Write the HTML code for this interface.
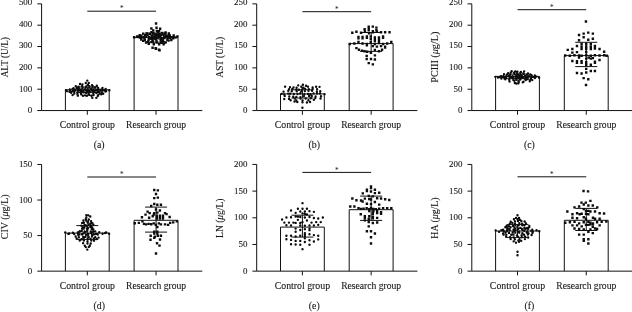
<!DOCTYPE html>
<html lang="en"><head><meta charset="utf-8"><title>Figure</title>
<style>html,body{margin:0;padding:0;background:#fff}body{width:632px;height:312px;overflow:hidden}</style>
</head><body>
<svg width="632" height="312" viewBox="0 0 632 312" style="display:block">
<rect x="0" y="0" width="632" height="312" fill="#ffffff"/>
<g font-family="'Liberation Serif', serif" font-size="9.8" fill="#161616">
<g><path d="M65.4 110.55V89.8H109.2V110.55" fill="none" stroke="#111111" stroke-width="1.0"/>
<path d="M134.1 110.55V37.6H178V110.55" fill="none" stroke="#111111" stroke-width="1.0"/>
<path d="M41.6 3.85V110.55H202.3M37.3 110.55H41.6M37.3 89.21H41.6M37.3 67.87H41.6M37.3 46.53H41.6M37.3 25.19H41.6M37.3 3.85H41.6M87.3 110.55V114.75M156.05 110.55V114.75" fill="none" stroke="#111111" stroke-width="1.0"/>
<text x="32.25" y="113.15" font-size="8.6" text-anchor="end" textLength="4.45" lengthAdjust="spacingAndGlyphs" stroke="#161616" stroke-width="0.1">0</text>
<text x="32.25" y="91.59" font-size="8.6" text-anchor="end" textLength="13.35" lengthAdjust="spacingAndGlyphs" stroke="#161616" stroke-width="0.1">100</text>
<text x="32.25" y="70.03" font-size="8.6" text-anchor="end" textLength="13.35" lengthAdjust="spacingAndGlyphs" stroke="#161616" stroke-width="0.1">200</text>
<text x="32.25" y="48.47" font-size="8.6" text-anchor="end" textLength="13.35" lengthAdjust="spacingAndGlyphs" stroke="#161616" stroke-width="0.1">300</text>
<text x="32.25" y="26.91" font-size="8.6" text-anchor="end" textLength="13.35" lengthAdjust="spacingAndGlyphs" stroke="#161616" stroke-width="0.1">400</text>
<text x="32.25" y="5.35" font-size="8.6" text-anchor="end" textLength="13.35" lengthAdjust="spacingAndGlyphs" stroke="#161616" stroke-width="0.1">500</text>
<text x="87.3" y="128.15" text-anchor="middle" textLength="55.3" lengthAdjust="spacingAndGlyphs" stroke="#161616" stroke-width="0.1">Control group</text>
<text x="156.05" y="128.15" text-anchor="middle" textLength="60" lengthAdjust="spacingAndGlyphs" stroke="#161616" stroke-width="0.1">Research group</text>
<text x="99.2" y="148.25" text-anchor="middle" stroke="#161616" stroke-width="0.1">(a)</text>
<text transform="translate(8 57.2) rotate(-90)" text-anchor="middle" textLength="40.2" lengthAdjust="spacingAndGlyphs" stroke="#161616" stroke-width="0.1">ALT (U/L)</text>
<path d="M87.3 11.2H156.05" fill="none" stroke="#111111" stroke-width="1.0"/>
<text x="121.7" y="11.35" font-size="7.2" text-anchor="middle">*</text>
<path d="M87.3 87V92.6M76.3 87H98.3M76.3 92.6H98.3" fill="none" stroke="#111111" stroke-width="1.0"/>
<path d="M86.1 80.6a1.2 1.2 0 1 0 2.4 0a1.2 1.2 0 1 0 -2.4 0M84.6 83.04a1.2 1.2 0 1 0 2.4 0a1.2 1.2 0 1 0 -2.4 0M87.6 82.97a1.2 1.2 0 1 0 2.4 0a1.2 1.2 0 1 0 -2.4 0M78.84 84a1.2 1.2 0 1 0 2.4 0a1.2 1.2 0 1 0 -2.4 0M81.24 84.38a1.2 1.2 0 1 0 2.4 0a1.2 1.2 0 1 0 -2.4 0M86.63 84.82a1.2 1.2 0 1 0 2.4 0a1.2 1.2 0 1 0 -2.4 0M90.86 85.08a1.2 1.2 0 1 0 2.4 0a1.2 1.2 0 1 0 -2.4 0M74.55 86.31a1.2 1.2 0 1 0 2.4 0a1.2 1.2 0 1 0 -2.4 0M77.4 86.7a1.2 1.2 0 1 0 2.4 0a1.2 1.2 0 1 0 -2.4 0M80.81 86.08a1.2 1.2 0 1 0 2.4 0a1.2 1.2 0 1 0 -2.4 0M85 86.43a1.2 1.2 0 1 0 2.4 0a1.2 1.2 0 1 0 -2.4 0M88.2 86.18a1.2 1.2 0 1 0 2.4 0a1.2 1.2 0 1 0 -2.4 0M91.53 86.09a1.2 1.2 0 1 0 2.4 0a1.2 1.2 0 1 0 -2.4 0M95.62 85.75a1.2 1.2 0 1 0 2.4 0a1.2 1.2 0 1 0 -2.4 0M72.31 88.23a1.2 1.2 0 1 0 2.4 0a1.2 1.2 0 1 0 -2.4 0M75.71 87.89a1.2 1.2 0 1 0 2.4 0a1.2 1.2 0 1 0 -2.4 0M77.51 87.73a1.2 1.2 0 1 0 2.4 0a1.2 1.2 0 1 0 -2.4 0M81.46 87.75a1.2 1.2 0 1 0 2.4 0a1.2 1.2 0 1 0 -2.4 0M84.56 87.57a1.2 1.2 0 1 0 2.4 0a1.2 1.2 0 1 0 -2.4 0M88.11 87.61a1.2 1.2 0 1 0 2.4 0a1.2 1.2 0 1 0 -2.4 0M91.25 87.37a1.2 1.2 0 1 0 2.4 0a1.2 1.2 0 1 0 -2.4 0M93.78 87.46a1.2 1.2 0 1 0 2.4 0a1.2 1.2 0 1 0 -2.4 0M96.88 87.9a1.2 1.2 0 1 0 2.4 0a1.2 1.2 0 1 0 -2.4 0M101.29 87.91a1.2 1.2 0 1 0 2.4 0a1.2 1.2 0 1 0 -2.4 0M68.64 89.51a1.2 1.2 0 1 0 2.4 0a1.2 1.2 0 1 0 -2.4 0M71.33 88.88a1.2 1.2 0 1 0 2.4 0a1.2 1.2 0 1 0 -2.4 0M73.94 89.76a1.2 1.2 0 1 0 2.4 0a1.2 1.2 0 1 0 -2.4 0M78.09 89.31a1.2 1.2 0 1 0 2.4 0a1.2 1.2 0 1 0 -2.4 0M80.1 89.56a1.2 1.2 0 1 0 2.4 0a1.2 1.2 0 1 0 -2.4 0M83.45 89.45a1.2 1.2 0 1 0 2.4 0a1.2 1.2 0 1 0 -2.4 0M86.53 89.51a1.2 1.2 0 1 0 2.4 0a1.2 1.2 0 1 0 -2.4 0M89.8 89.17a1.2 1.2 0 1 0 2.4 0a1.2 1.2 0 1 0 -2.4 0M92.18 89.38a1.2 1.2 0 1 0 2.4 0a1.2 1.2 0 1 0 -2.4 0M94.96 89.76a1.2 1.2 0 1 0 2.4 0a1.2 1.2 0 1 0 -2.4 0M97.3 89.32a1.2 1.2 0 1 0 2.4 0a1.2 1.2 0 1 0 -2.4 0M99.86 89.79a1.2 1.2 0 1 0 2.4 0a1.2 1.2 0 1 0 -2.4 0M104.45 88.84a1.2 1.2 0 1 0 2.4 0a1.2 1.2 0 1 0 -2.4 0M64.8 90.08a1.2 1.2 0 1 0 2.4 0a1.2 1.2 0 1 0 -2.4 0M65.93 91.15a1.2 1.2 0 1 0 2.4 0a1.2 1.2 0 1 0 -2.4 0M68.94 91.13a1.2 1.2 0 1 0 2.4 0a1.2 1.2 0 1 0 -2.4 0M71.9 90.93a1.2 1.2 0 1 0 2.4 0a1.2 1.2 0 1 0 -2.4 0M74.06 90.3a1.2 1.2 0 1 0 2.4 0a1.2 1.2 0 1 0 -2.4 0M76.51 90.1a1.2 1.2 0 1 0 2.4 0a1.2 1.2 0 1 0 -2.4 0M77.85 90.51a1.2 1.2 0 1 0 2.4 0a1.2 1.2 0 1 0 -2.4 0M79.7 90.84a1.2 1.2 0 1 0 2.4 0a1.2 1.2 0 1 0 -2.4 0M81.76 91.01a1.2 1.2 0 1 0 2.4 0a1.2 1.2 0 1 0 -2.4 0M85.03 90.79a1.2 1.2 0 1 0 2.4 0a1.2 1.2 0 1 0 -2.4 0M87.86 91.02a1.2 1.2 0 1 0 2.4 0a1.2 1.2 0 1 0 -2.4 0M90.32 90.65a1.2 1.2 0 1 0 2.4 0a1.2 1.2 0 1 0 -2.4 0M91.88 91.04a1.2 1.2 0 1 0 2.4 0a1.2 1.2 0 1 0 -2.4 0M93.48 91.13a1.2 1.2 0 1 0 2.4 0a1.2 1.2 0 1 0 -2.4 0M96.76 90.31a1.2 1.2 0 1 0 2.4 0a1.2 1.2 0 1 0 -2.4 0M99.33 90.53a1.2 1.2 0 1 0 2.4 0a1.2 1.2 0 1 0 -2.4 0M101.36 90.25a1.2 1.2 0 1 0 2.4 0a1.2 1.2 0 1 0 -2.4 0M103.3 90.39a1.2 1.2 0 1 0 2.4 0a1.2 1.2 0 1 0 -2.4 0M105.02 91.02a1.2 1.2 0 1 0 2.4 0a1.2 1.2 0 1 0 -2.4 0M108.21 90.26a1.2 1.2 0 1 0 2.4 0a1.2 1.2 0 1 0 -2.4 0M68.39 91.7a1.2 1.2 0 1 0 2.4 0a1.2 1.2 0 1 0 -2.4 0M70.41 91.69a1.2 1.2 0 1 0 2.4 0a1.2 1.2 0 1 0 -2.4 0M73.07 91.85a1.2 1.2 0 1 0 2.4 0a1.2 1.2 0 1 0 -2.4 0M76.3 92.27a1.2 1.2 0 1 0 2.4 0a1.2 1.2 0 1 0 -2.4 0M79.89 91.82a1.2 1.2 0 1 0 2.4 0a1.2 1.2 0 1 0 -2.4 0M82.64 92.31a1.2 1.2 0 1 0 2.4 0a1.2 1.2 0 1 0 -2.4 0M86.19 91.4a1.2 1.2 0 1 0 2.4 0a1.2 1.2 0 1 0 -2.4 0M88.48 91.68a1.2 1.2 0 1 0 2.4 0a1.2 1.2 0 1 0 -2.4 0M92.53 91.88a1.2 1.2 0 1 0 2.4 0a1.2 1.2 0 1 0 -2.4 0M95.8 92.18a1.2 1.2 0 1 0 2.4 0a1.2 1.2 0 1 0 -2.4 0M97.94 92.32a1.2 1.2 0 1 0 2.4 0a1.2 1.2 0 1 0 -2.4 0M100.7 92.57a1.2 1.2 0 1 0 2.4 0a1.2 1.2 0 1 0 -2.4 0M104.28 91.49a1.2 1.2 0 1 0 2.4 0a1.2 1.2 0 1 0 -2.4 0M70.02 92.86a1.2 1.2 0 1 0 2.4 0a1.2 1.2 0 1 0 -2.4 0M73.1 93.48a1.2 1.2 0 1 0 2.4 0a1.2 1.2 0 1 0 -2.4 0M76.23 93.83a1.2 1.2 0 1 0 2.4 0a1.2 1.2 0 1 0 -2.4 0M79.79 92.99a1.2 1.2 0 1 0 2.4 0a1.2 1.2 0 1 0 -2.4 0M84.98 92.89a1.2 1.2 0 1 0 2.4 0a1.2 1.2 0 1 0 -2.4 0M87.5 93.92a1.2 1.2 0 1 0 2.4 0a1.2 1.2 0 1 0 -2.4 0M92.11 93.86a1.2 1.2 0 1 0 2.4 0a1.2 1.2 0 1 0 -2.4 0M95.22 92.94a1.2 1.2 0 1 0 2.4 0a1.2 1.2 0 1 0 -2.4 0M98.42 93.5a1.2 1.2 0 1 0 2.4 0a1.2 1.2 0 1 0 -2.4 0M102.01 93.69a1.2 1.2 0 1 0 2.4 0a1.2 1.2 0 1 0 -2.4 0M71.38 95.09a1.2 1.2 0 1 0 2.4 0a1.2 1.2 0 1 0 -2.4 0M76.22 94.37a1.2 1.2 0 1 0 2.4 0a1.2 1.2 0 1 0 -2.4 0M79.96 94.24a1.2 1.2 0 1 0 2.4 0a1.2 1.2 0 1 0 -2.4 0M83.87 95.34a1.2 1.2 0 1 0 2.4 0a1.2 1.2 0 1 0 -2.4 0M88.02 94.89a1.2 1.2 0 1 0 2.4 0a1.2 1.2 0 1 0 -2.4 0M92.37 95.12a1.2 1.2 0 1 0 2.4 0a1.2 1.2 0 1 0 -2.4 0M96.93 95.32a1.2 1.2 0 1 0 2.4 0a1.2 1.2 0 1 0 -2.4 0M100.05 94.26a1.2 1.2 0 1 0 2.4 0a1.2 1.2 0 1 0 -2.4 0M76.62 95.66a1.2 1.2 0 1 0 2.4 0a1.2 1.2 0 1 0 -2.4 0M81.73 95.8a1.2 1.2 0 1 0 2.4 0a1.2 1.2 0 1 0 -2.4 0M85.72 95.82a1.2 1.2 0 1 0 2.4 0a1.2 1.2 0 1 0 -2.4 0M90.21 95.74a1.2 1.2 0 1 0 2.4 0a1.2 1.2 0 1 0 -2.4 0M96.62 95.94a1.2 1.2 0 1 0 2.4 0a1.2 1.2 0 1 0 -2.4 0M91.1 97.81a1.2 1.2 0 1 0 2.4 0a1.2 1.2 0 1 0 -2.4 0M95.1 97.83a1.2 1.2 0 1 0 2.4 0a1.2 1.2 0 1 0 -2.4 0" fill="#0c0c0c"/>
<path d="M156.05 33V42.2M145.05 33H167.05M145.05 42.2H167.05" fill="none" stroke="#111111" stroke-width="1.0"/>
<path d="M154.85 22.3h2.4v2.4h-2.4zM150.19 27.25h2.4v2.4h-2.4zM155.34 26.58h2.4v2.4h-2.4zM158.96 27.58h2.4v2.4h-2.4zM152.07 29.25h2.4v2.4h-2.4zM155.7 29.7h2.4v2.4h-2.4zM157.88 30.05h2.4v2.4h-2.4zM145.72 32.18h2.4v2.4h-2.4zM150.24 31.09h2.4v2.4h-2.4zM152.22 32.1h2.4v2.4h-2.4zM156.55 31.04h2.4v2.4h-2.4zM161.06 31.87h2.4v2.4h-2.4zM164.35 31.23h2.4v2.4h-2.4zM141.99 32.46h2.4v2.4h-2.4zM145.79 32.67h2.4v2.4h-2.4zM148.62 32.74h2.4v2.4h-2.4zM152.5 33.26h2.4v2.4h-2.4zM154.84 33.31h2.4v2.4h-2.4zM157.81 32.99h2.4v2.4h-2.4zM160.64 32.4h2.4v2.4h-2.4zM164.01 32.74h2.4v2.4h-2.4zM167.6 32.36h2.4v2.4h-2.4zM138.52 34.1h2.4v2.4h-2.4zM140.08 34.53h2.4v2.4h-2.4zM143.9 33.69h2.4v2.4h-2.4zM146.46 34.13h2.4v2.4h-2.4zM150.51 34.15h2.4v2.4h-2.4zM154.16 34.31h2.4v2.4h-2.4zM156.86 34.01h2.4v2.4h-2.4zM159.54 33.75h2.4v2.4h-2.4zM162.23 33.71h2.4v2.4h-2.4zM166.15 34.57h2.4v2.4h-2.4zM168.6 34.18h2.4v2.4h-2.4zM172.49 34.21h2.4v2.4h-2.4zM132.9 36.11h2.4v2.4h-2.4zM135.92 35.28h2.4v2.4h-2.4zM137.09 35.52h2.4v2.4h-2.4zM139.91 35.72h2.4v2.4h-2.4zM142.72 35.75h2.4v2.4h-2.4zM144.54 35.25h2.4v2.4h-2.4zM147.83 36.02h2.4v2.4h-2.4zM150.65 35.62h2.4v2.4h-2.4zM152.25 35.99h2.4v2.4h-2.4zM154.42 35.24h2.4v2.4h-2.4zM157.11 35.29h2.4v2.4h-2.4zM159.11 35.17h2.4v2.4h-2.4zM162.81 35.87h2.4v2.4h-2.4zM164.97 35.01h2.4v2.4h-2.4zM167.94 35.59h2.4v2.4h-2.4zM170.33 35.91h2.4v2.4h-2.4zM171.86 35.98h2.4v2.4h-2.4zM174.44 36.18h2.4v2.4h-2.4zM176.32 35.2h2.4v2.4h-2.4zM138.56 36.46h2.4v2.4h-2.4zM140.32 36.43h2.4v2.4h-2.4zM143.23 37.08h2.4v2.4h-2.4zM147.75 36.63h2.4v2.4h-2.4zM150.06 37.52h2.4v2.4h-2.4zM152.81 37.4h2.4v2.4h-2.4zM156.44 37.11h2.4v2.4h-2.4zM160.22 37h2.4v2.4h-2.4zM163.32 36.96h2.4v2.4h-2.4zM166.32 36.77h2.4v2.4h-2.4zM168.82 36.61h2.4v2.4h-2.4zM172 36.99h2.4v2.4h-2.4zM140.06 38.29h2.4v2.4h-2.4zM143.58 38.66h2.4v2.4h-2.4zM147.55 38.44h2.4v2.4h-2.4zM151.09 38.35h2.4v2.4h-2.4zM154.27 37.97h2.4v2.4h-2.4zM159.21 37.81h2.4v2.4h-2.4zM161.54 38.28h2.4v2.4h-2.4zM166.18 38.58h2.4v2.4h-2.4zM170.11 38.75h2.4v2.4h-2.4zM142.01 39.66h2.4v2.4h-2.4zM146.93 40.33h2.4v2.4h-2.4zM151.64 40.37h2.4v2.4h-2.4zM155.52 40.17h2.4v2.4h-2.4zM159.58 39.44h2.4v2.4h-2.4zM162.05 40.39h2.4v2.4h-2.4zM167.41 39.46h2.4v2.4h-2.4zM144.87 41.26h2.4v2.4h-2.4zM150.21 40.97h2.4v2.4h-2.4zM155.48 41.23h2.4v2.4h-2.4zM160.06 41.62h2.4v2.4h-2.4zM164.33 41.23h2.4v2.4h-2.4zM147.57 42.52h2.4v2.4h-2.4zM152.61 43.12h2.4v2.4h-2.4zM157.96 43.11h2.4v2.4h-2.4zM162.42 43.05h2.4v2.4h-2.4zM151.35 46.58h2.4v2.4h-2.4zM154.35 47.07h2.4v2.4h-2.4zM154.85 47.56h2.4v2.4h-2.4zM157.85 48.54h2.4v2.4h-2.4zM158.35 49.1h2.4v2.4h-2.4z" fill="#0c0c0c"/></g>
<g><path d="M280.5 110.55V93.9H324.3V110.55" fill="none" stroke="#111111" stroke-width="1.0"/>
<path d="M349.2 110.55V43.6H393.1V110.55" fill="none" stroke="#111111" stroke-width="1.0"/>
<path d="M256.7 3.85V110.55H417.4M252.4 110.55H256.7M252.4 89.21H256.7M252.4 67.87H256.7M252.4 46.53H256.7M252.4 25.19H256.7M252.4 3.85H256.7M302.4 110.55V114.75M371.15 110.55V114.75" fill="none" stroke="#111111" stroke-width="1.0"/>
<text x="247.35" y="113.15" font-size="8.6" text-anchor="end" textLength="4.45" lengthAdjust="spacingAndGlyphs" stroke="#161616" stroke-width="0.1">0</text>
<text x="247.35" y="91.59" font-size="8.6" text-anchor="end" textLength="8.9" lengthAdjust="spacingAndGlyphs" stroke="#161616" stroke-width="0.1">50</text>
<text x="247.35" y="70.03" font-size="8.6" text-anchor="end" textLength="13.35" lengthAdjust="spacingAndGlyphs" stroke="#161616" stroke-width="0.1">100</text>
<text x="247.35" y="48.47" font-size="8.6" text-anchor="end" textLength="13.35" lengthAdjust="spacingAndGlyphs" stroke="#161616" stroke-width="0.1">150</text>
<text x="247.35" y="26.91" font-size="8.6" text-anchor="end" textLength="13.35" lengthAdjust="spacingAndGlyphs" stroke="#161616" stroke-width="0.1">200</text>
<text x="247.35" y="5.35" font-size="8.6" text-anchor="end" textLength="13.35" lengthAdjust="spacingAndGlyphs" stroke="#161616" stroke-width="0.1">250</text>
<text x="302.4" y="128.15" text-anchor="middle" textLength="55.3" lengthAdjust="spacingAndGlyphs" stroke="#161616" stroke-width="0.1">Control group</text>
<text x="371.15" y="128.15" text-anchor="middle" textLength="60" lengthAdjust="spacingAndGlyphs" stroke="#161616" stroke-width="0.1">Research group</text>
<text x="314.3" y="148.25" text-anchor="middle" stroke="#161616" stroke-width="0.1">(b)</text>
<text transform="translate(223.1 57.2) rotate(-90)" text-anchor="middle" textLength="40.6" lengthAdjust="spacingAndGlyphs" stroke="#161616" stroke-width="0.1">AST (U/L)</text>
<path d="M302.4 11.7H371.15" fill="none" stroke="#111111" stroke-width="1.0"/>
<text x="336.8" y="11.85" font-size="7.2" text-anchor="middle">*</text>
<path d="M302.4 89.8V98M291.4 89.8H313.4M291.4 98H313.4" fill="none" stroke="#111111" stroke-width="1.0"/>
<path d="M297.04 85.35a1.2 1.2 0 1 0 2.4 0a1.2 1.2 0 1 0 -2.4 0M301.69 84.68a1.2 1.2 0 1 0 2.4 0a1.2 1.2 0 1 0 -2.4 0M304.81 85.68a1.2 1.2 0 1 0 2.4 0a1.2 1.2 0 1 0 -2.4 0M283.92 86.65a1.2 1.2 0 1 0 2.4 0a1.2 1.2 0 1 0 -2.4 0M288.83 87.1a1.2 1.2 0 1 0 2.4 0a1.2 1.2 0 1 0 -2.4 0M292.29 87.45a1.2 1.2 0 1 0 2.4 0a1.2 1.2 0 1 0 -2.4 0M295.4 87.78a1.2 1.2 0 1 0 2.4 0a1.2 1.2 0 1 0 -2.4 0M300.1 86.69a1.2 1.2 0 1 0 2.4 0a1.2 1.2 0 1 0 -2.4 0M302.26 87.7a1.2 1.2 0 1 0 2.4 0a1.2 1.2 0 1 0 -2.4 0M306.77 86.64a1.2 1.2 0 1 0 2.4 0a1.2 1.2 0 1 0 -2.4 0M311.45 87.47a1.2 1.2 0 1 0 2.4 0a1.2 1.2 0 1 0 -2.4 0M314.92 86.83a1.2 1.2 0 1 0 2.4 0a1.2 1.2 0 1 0 -2.4 0M318.34 86.86a1.2 1.2 0 1 0 2.4 0a1.2 1.2 0 1 0 -2.4 0M287.89 89.17a1.2 1.2 0 1 0 2.4 0a1.2 1.2 0 1 0 -2.4 0M290.97 89.24a1.2 1.2 0 1 0 2.4 0a1.2 1.2 0 1 0 -2.4 0M295.1 89.76a1.2 1.2 0 1 0 2.4 0a1.2 1.2 0 1 0 -2.4 0M297.69 89.81a1.2 1.2 0 1 0 2.4 0a1.2 1.2 0 1 0 -2.4 0M300.91 89.49a1.2 1.2 0 1 0 2.4 0a1.2 1.2 0 1 0 -2.4 0M303.99 88.9a1.2 1.2 0 1 0 2.4 0a1.2 1.2 0 1 0 -2.4 0M307.61 89.24a1.2 1.2 0 1 0 2.4 0a1.2 1.2 0 1 0 -2.4 0M311.45 88.86a1.2 1.2 0 1 0 2.4 0a1.2 1.2 0 1 0 -2.4 0M315.87 89.2a1.2 1.2 0 1 0 2.4 0a1.2 1.2 0 1 0 -2.4 0M282.34 91.63a1.2 1.2 0 1 0 2.4 0a1.2 1.2 0 1 0 -2.4 0M287.07 90.79a1.2 1.2 0 1 0 2.4 0a1.2 1.2 0 1 0 -2.4 0M290.54 91.23a1.2 1.2 0 1 0 2.4 0a1.2 1.2 0 1 0 -2.4 0M295.5 91.25a1.2 1.2 0 1 0 2.4 0a1.2 1.2 0 1 0 -2.4 0M300.05 91.41a1.2 1.2 0 1 0 2.4 0a1.2 1.2 0 1 0 -2.4 0M303.67 91.11a1.2 1.2 0 1 0 2.4 0a1.2 1.2 0 1 0 -2.4 0M307.26 90.85a1.2 1.2 0 1 0 2.4 0a1.2 1.2 0 1 0 -2.4 0M310.86 90.81a1.2 1.2 0 1 0 2.4 0a1.2 1.2 0 1 0 -2.4 0M315.68 91.67a1.2 1.2 0 1 0 2.4 0a1.2 1.2 0 1 0 -2.4 0M319.05 91.28a1.2 1.2 0 1 0 2.4 0a1.2 1.2 0 1 0 -2.4 0M280.34 93.91a1.2 1.2 0 1 0 2.4 0a1.2 1.2 0 1 0 -2.4 0M283.06 94.41a1.2 1.2 0 1 0 2.4 0a1.2 1.2 0 1 0 -2.4 0M286.94 93.58a1.2 1.2 0 1 0 2.4 0a1.2 1.2 0 1 0 -2.4 0M288.97 93.82a1.2 1.2 0 1 0 2.4 0a1.2 1.2 0 1 0 -2.4 0M292.66 94.02a1.2 1.2 0 1 0 2.4 0a1.2 1.2 0 1 0 -2.4 0M296.33 94.05a1.2 1.2 0 1 0 2.4 0a1.2 1.2 0 1 0 -2.4 0M299.01 93.55a1.2 1.2 0 1 0 2.4 0a1.2 1.2 0 1 0 -2.4 0M303.17 94.32a1.2 1.2 0 1 0 2.4 0a1.2 1.2 0 1 0 -2.4 0M306.85 93.92a1.2 1.2 0 1 0 2.4 0a1.2 1.2 0 1 0 -2.4 0M309.32 94.29a1.2 1.2 0 1 0 2.4 0a1.2 1.2 0 1 0 -2.4 0M312.35 93.54a1.2 1.2 0 1 0 2.4 0a1.2 1.2 0 1 0 -2.4 0M315.9 93.59a1.2 1.2 0 1 0 2.4 0a1.2 1.2 0 1 0 -2.4 0M318.76 93.47a1.2 1.2 0 1 0 2.4 0a1.2 1.2 0 1 0 -2.4 0M323.32 94.17a1.2 1.2 0 1 0 2.4 0a1.2 1.2 0 1 0 -2.4 0M283.55 95.91a1.2 1.2 0 1 0 2.4 0a1.2 1.2 0 1 0 -2.4 0M288.07 96.49a1.2 1.2 0 1 0 2.4 0a1.2 1.2 0 1 0 -2.4 0M292.01 96.81a1.2 1.2 0 1 0 2.4 0a1.2 1.2 0 1 0 -2.4 0M295.1 96.88a1.2 1.2 0 1 0 2.4 0a1.2 1.2 0 1 0 -2.4 0M299.24 97.08a1.2 1.2 0 1 0 2.4 0a1.2 1.2 0 1 0 -2.4 0M302.67 96.1a1.2 1.2 0 1 0 2.4 0a1.2 1.2 0 1 0 -2.4 0M307.91 95.96a1.2 1.2 0 1 0 2.4 0a1.2 1.2 0 1 0 -2.4 0M310.58 95.93a1.2 1.2 0 1 0 2.4 0a1.2 1.2 0 1 0 -2.4 0M314.4 96.58a1.2 1.2 0 1 0 2.4 0a1.2 1.2 0 1 0 -2.4 0M319.83 96.13a1.2 1.2 0 1 0 2.4 0a1.2 1.2 0 1 0 -2.4 0M283.04 99.02a1.2 1.2 0 1 0 2.4 0a1.2 1.2 0 1 0 -2.4 0M287.85 98.9a1.2 1.2 0 1 0 2.4 0a1.2 1.2 0 1 0 -2.4 0M293.53 98.61a1.2 1.2 0 1 0 2.4 0a1.2 1.2 0 1 0 -2.4 0M299.36 98.5a1.2 1.2 0 1 0 2.4 0a1.2 1.2 0 1 0 -2.4 0M304.52 98.46a1.2 1.2 0 1 0 2.4 0a1.2 1.2 0 1 0 -2.4 0M309.57 98.27a1.2 1.2 0 1 0 2.4 0a1.2 1.2 0 1 0 -2.4 0M314.12 98.11a1.2 1.2 0 1 0 2.4 0a1.2 1.2 0 1 0 -2.4 0M319.35 98.49a1.2 1.2 0 1 0 2.4 0a1.2 1.2 0 1 0 -2.4 0M289.41 100.19a1.2 1.2 0 1 0 2.4 0a1.2 1.2 0 1 0 -2.4 0M295.18 100.56a1.2 1.2 0 1 0 2.4 0a1.2 1.2 0 1 0 -2.4 0M301.4 100.34a1.2 1.2 0 1 0 2.4 0a1.2 1.2 0 1 0 -2.4 0M307.19 100.25a1.2 1.2 0 1 0 2.4 0a1.2 1.2 0 1 0 -2.4 0M312.62 99.87a1.2 1.2 0 1 0 2.4 0a1.2 1.2 0 1 0 -2.4 0M293.31 101.51a1.2 1.2 0 1 0 2.4 0a1.2 1.2 0 1 0 -2.4 0M296.14 101.98a1.2 1.2 0 1 0 2.4 0a1.2 1.2 0 1 0 -2.4 0M301.28 102.28a1.2 1.2 0 1 0 2.4 0a1.2 1.2 0 1 0 -2.4 0M305.71 102.45a1.2 1.2 0 1 0 2.4 0a1.2 1.2 0 1 0 -2.4 0M308.86 101.96a1.2 1.2 0 1 0 2.4 0a1.2 1.2 0 1 0 -2.4 0M301.2 107.7a1.2 1.2 0 1 0 2.4 0a1.2 1.2 0 1 0 -2.4 0" fill="#0c0c0c"/>
<path d="M371.15 32.5V51.4M360.15 32.5H382.15M360.15 51.4H382.15" fill="none" stroke="#111111" stroke-width="1.0"/>
<path d="M367.52 25.42h2.4v2.4h-2.4zM371.62 25.42h2.4v2.4h-2.4zM375.21 26.44h2.4v2.4h-2.4zM363.42 27.98h2.4v2.4h-2.4zM367.52 27.77h2.4v2.4h-2.4zM367.52 29.21h2.4v2.4h-2.4zM371.62 30.03h2.4v2.4h-2.4zM375.21 29.01h2.4v2.4h-2.4zM351.11 31.57h2.4v2.4h-2.4zM355.21 30.54h2.4v2.4h-2.4zM359.83 31.57h2.4v2.4h-2.4zM363.72 30.54h2.4v2.4h-2.4zM367.83 32.08h2.4v2.4h-2.4zM371.83 31.06h2.4v2.4h-2.4zM375.72 30.54h2.4v2.4h-2.4zM379.83 31.06h2.4v2.4h-2.4zM383.93 31.06h2.4v2.4h-2.4zM388.34 31.06h2.4v2.4h-2.4zM357.26 35.67h2.4v2.4h-2.4zM357.26 37.21h2.4v2.4h-2.4zM361.36 35.67h2.4v2.4h-2.4zM361.36 37.21h2.4v2.4h-2.4zM365.67 35.16h2.4v2.4h-2.4zM365.67 36.7h2.4v2.4h-2.4zM369.57 35.16h2.4v2.4h-2.4zM369.57 37.72h2.4v2.4h-2.4zM373.67 36.18h2.4v2.4h-2.4zM373.67 38.24h2.4v2.4h-2.4zM377.77 36.18h2.4v2.4h-2.4zM377.77 37.72h2.4v2.4h-2.4zM381.88 35.16h2.4v2.4h-2.4zM381.88 36.7h2.4v2.4h-2.4zM373.67 39.77h2.4v2.4h-2.4zM377.77 39.77h2.4v2.4h-2.4zM357.26 40.8h2.4v2.4h-2.4zM369.57 40.8h2.4v2.4h-2.4zM348.54 42.85h2.4v2.4h-2.4zM353.16 42.34h2.4v2.4h-2.4zM357.26 41.31h2.4v2.4h-2.4zM361.36 42.34h2.4v2.4h-2.4zM365.67 42.85h2.4v2.4h-2.4zM369.57 41.31h2.4v2.4h-2.4zM373.67 42.85h2.4v2.4h-2.4zM377.77 41.83h2.4v2.4h-2.4zM381.88 42.85h2.4v2.4h-2.4zM385.98 42.34h2.4v2.4h-2.4zM390.08 40.8h2.4v2.4h-2.4zM371.62 44.9h2.4v2.4h-2.4zM375.72 45.42h2.4v2.4h-2.4zM379.83 44.9h2.4v2.4h-2.4zM365.67 44.18h2.4v2.4h-2.4zM383.93 45.42h2.4v2.4h-2.4zM355.21 46.95h2.4v2.4h-2.4zM357.77 48.49h2.4v2.4h-2.4zM360.85 49.52h2.4v2.4h-2.4zM363.42 50.03h2.4v2.4h-2.4zM365.98 50.54h2.4v2.4h-2.4zM369.57 51.06h2.4v2.4h-2.4zM373.67 48.7h2.4v2.4h-2.4zM377.77 50.03h2.4v2.4h-2.4zM380.85 48.49h2.4v2.4h-2.4zM383.93 46.44h2.4v2.4h-2.4zM369.8 51.62h2.4v2.4h-2.4zM365.49 54.7h2.4v2.4h-2.4zM373.7 54.18h2.4v2.4h-2.4zM365.49 57.77h2.4v2.4h-2.4zM369.8 57.77h2.4v2.4h-2.4zM373.7 58.29h2.4v2.4h-2.4zM367.54 61.88h2.4v2.4h-2.4zM371.65 63.21h2.4v2.4h-2.4z" fill="#0c0c0c"/></g>
<g><path d="M495.6 110.55V76.4H539.4V110.55" fill="none" stroke="#111111" stroke-width="1.0"/>
<path d="M564.3 110.55V55.6H608.2V110.55" fill="none" stroke="#111111" stroke-width="1.0"/>
<path d="M471.8 3.85V110.55H632.5M467.5 110.55H471.8M467.5 89.21H471.8M467.5 67.87H471.8M467.5 46.53H471.8M467.5 25.19H471.8M467.5 3.85H471.8M517.5 110.55V114.75M586.25 110.55V114.75" fill="none" stroke="#111111" stroke-width="1.0"/>
<text x="462.45" y="113.15" font-size="8.6" text-anchor="end" textLength="4.45" lengthAdjust="spacingAndGlyphs" stroke="#161616" stroke-width="0.1">0</text>
<text x="462.45" y="91.59" font-size="8.6" text-anchor="end" textLength="8.9" lengthAdjust="spacingAndGlyphs" stroke="#161616" stroke-width="0.1">50</text>
<text x="462.45" y="70.03" font-size="8.6" text-anchor="end" textLength="13.35" lengthAdjust="spacingAndGlyphs" stroke="#161616" stroke-width="0.1">100</text>
<text x="462.45" y="48.47" font-size="8.6" text-anchor="end" textLength="13.35" lengthAdjust="spacingAndGlyphs" stroke="#161616" stroke-width="0.1">150</text>
<text x="462.45" y="26.91" font-size="8.6" text-anchor="end" textLength="13.35" lengthAdjust="spacingAndGlyphs" stroke="#161616" stroke-width="0.1">200</text>
<text x="462.45" y="5.35" font-size="8.6" text-anchor="end" textLength="13.35" lengthAdjust="spacingAndGlyphs" stroke="#161616" stroke-width="0.1">250</text>
<text x="517.5" y="128.15" text-anchor="middle" textLength="55.3" lengthAdjust="spacingAndGlyphs" stroke="#161616" stroke-width="0.1">Control group</text>
<text x="586.25" y="128.15" text-anchor="middle" textLength="60" lengthAdjust="spacingAndGlyphs" stroke="#161616" stroke-width="0.1">Research group</text>
<text x="529.4" y="148.25" text-anchor="middle" stroke="#161616" stroke-width="0.1">(c)</text>
<text transform="translate(438.2 57.2) rotate(-90)" text-anchor="middle" textLength="51.0" lengthAdjust="spacingAndGlyphs" stroke="#161616" stroke-width="0.1">PCIII (<tspan font-style="italic">μ</tspan>g/L)</text>
<path d="M517.5 9.7H586.25" fill="none" stroke="#111111" stroke-width="1.0"/>
<text x="551.9" y="9.85" font-size="7.2" text-anchor="middle">*</text>
<path d="M517.5 74.1V78.7M506.5 74.1H528.5M506.5 78.7H528.5" fill="none" stroke="#111111" stroke-width="1.0"/>
<path d="M510.49 71.18a1.2 1.2 0 1 0 2.4 0a1.2 1.2 0 1 0 -2.4 0M514.1 71.53a1.2 1.2 0 1 0 2.4 0a1.2 1.2 0 1 0 -2.4 0M516.21 71.75a1.2 1.2 0 1 0 2.4 0a1.2 1.2 0 1 0 -2.4 0M519.73 71.96a1.2 1.2 0 1 0 2.4 0a1.2 1.2 0 1 0 -2.4 0M522.93 71.37a1.2 1.2 0 1 0 2.4 0a1.2 1.2 0 1 0 -2.4 0M506.92 73.26a1.2 1.2 0 1 0 2.4 0a1.2 1.2 0 1 0 -2.4 0M509.57 72.48a1.2 1.2 0 1 0 2.4 0a1.2 1.2 0 1 0 -2.4 0M512.82 72.82a1.2 1.2 0 1 0 2.4 0a1.2 1.2 0 1 0 -2.4 0M516.01 73.16a1.2 1.2 0 1 0 2.4 0a1.2 1.2 0 1 0 -2.4 0M519.09 72.68a1.2 1.2 0 1 0 2.4 0a1.2 1.2 0 1 0 -2.4 0M522.18 73.32a1.2 1.2 0 1 0 2.4 0a1.2 1.2 0 1 0 -2.4 0M526.8 73.5a1.2 1.2 0 1 0 2.4 0a1.2 1.2 0 1 0 -2.4 0M502.81 74.16a1.2 1.2 0 1 0 2.4 0a1.2 1.2 0 1 0 -2.4 0M505.7 74.7a1.2 1.2 0 1 0 2.4 0a1.2 1.2 0 1 0 -2.4 0M508.99 74.79a1.2 1.2 0 1 0 2.4 0a1.2 1.2 0 1 0 -2.4 0M513.39 74.29a1.2 1.2 0 1 0 2.4 0a1.2 1.2 0 1 0 -2.4 0M516.72 74.42a1.2 1.2 0 1 0 2.4 0a1.2 1.2 0 1 0 -2.4 0M519.2 74.3a1.2 1.2 0 1 0 2.4 0a1.2 1.2 0 1 0 -2.4 0M522.53 73.9a1.2 1.2 0 1 0 2.4 0a1.2 1.2 0 1 0 -2.4 0M525.8 74.52a1.2 1.2 0 1 0 2.4 0a1.2 1.2 0 1 0 -2.4 0M529.02 74.49a1.2 1.2 0 1 0 2.4 0a1.2 1.2 0 1 0 -2.4 0M499.85 76.32a1.2 1.2 0 1 0 2.4 0a1.2 1.2 0 1 0 -2.4 0M502.12 76.27a1.2 1.2 0 1 0 2.4 0a1.2 1.2 0 1 0 -2.4 0M504.98 76.25a1.2 1.2 0 1 0 2.4 0a1.2 1.2 0 1 0 -2.4 0M507.86 76.06a1.2 1.2 0 1 0 2.4 0a1.2 1.2 0 1 0 -2.4 0M511.39 76.26a1.2 1.2 0 1 0 2.4 0a1.2 1.2 0 1 0 -2.4 0M515.26 75.37a1.2 1.2 0 1 0 2.4 0a1.2 1.2 0 1 0 -2.4 0M518.08 75.81a1.2 1.2 0 1 0 2.4 0a1.2 1.2 0 1 0 -2.4 0M520.72 75.75a1.2 1.2 0 1 0 2.4 0a1.2 1.2 0 1 0 -2.4 0M523.82 76.07a1.2 1.2 0 1 0 2.4 0a1.2 1.2 0 1 0 -2.4 0M527.36 76.15a1.2 1.2 0 1 0 2.4 0a1.2 1.2 0 1 0 -2.4 0M530.31 75.3a1.2 1.2 0 1 0 2.4 0a1.2 1.2 0 1 0 -2.4 0M533.65 75.57a1.2 1.2 0 1 0 2.4 0a1.2 1.2 0 1 0 -2.4 0M494.13 76.85a1.2 1.2 0 1 0 2.4 0a1.2 1.2 0 1 0 -2.4 0M496.77 77.48a1.2 1.2 0 1 0 2.4 0a1.2 1.2 0 1 0 -2.4 0M498.47 77.02a1.2 1.2 0 1 0 2.4 0a1.2 1.2 0 1 0 -2.4 0M500.82 76.96a1.2 1.2 0 1 0 2.4 0a1.2 1.2 0 1 0 -2.4 0M502.85 77.44a1.2 1.2 0 1 0 2.4 0a1.2 1.2 0 1 0 -2.4 0M505.13 76.71a1.2 1.2 0 1 0 2.4 0a1.2 1.2 0 1 0 -2.4 0M508.2 76.96a1.2 1.2 0 1 0 2.4 0a1.2 1.2 0 1 0 -2.4 0M509.84 76.9a1.2 1.2 0 1 0 2.4 0a1.2 1.2 0 1 0 -2.4 0M512.26 77.38a1.2 1.2 0 1 0 2.4 0a1.2 1.2 0 1 0 -2.4 0M514.88 76.67a1.2 1.2 0 1 0 2.4 0a1.2 1.2 0 1 0 -2.4 0M517.37 77.16a1.2 1.2 0 1 0 2.4 0a1.2 1.2 0 1 0 -2.4 0M519.12 76.74a1.2 1.2 0 1 0 2.4 0a1.2 1.2 0 1 0 -2.4 0M522.11 77.36a1.2 1.2 0 1 0 2.4 0a1.2 1.2 0 1 0 -2.4 0M524.94 76.97a1.2 1.2 0 1 0 2.4 0a1.2 1.2 0 1 0 -2.4 0M526.61 77.54a1.2 1.2 0 1 0 2.4 0a1.2 1.2 0 1 0 -2.4 0M529.47 77.42a1.2 1.2 0 1 0 2.4 0a1.2 1.2 0 1 0 -2.4 0M531.37 76.92a1.2 1.2 0 1 0 2.4 0a1.2 1.2 0 1 0 -2.4 0M533.18 77.14a1.2 1.2 0 1 0 2.4 0a1.2 1.2 0 1 0 -2.4 0M535.22 76.61a1.2 1.2 0 1 0 2.4 0a1.2 1.2 0 1 0 -2.4 0M537.9 77.63a1.2 1.2 0 1 0 2.4 0a1.2 1.2 0 1 0 -2.4 0M500.16 78.59a1.2 1.2 0 1 0 2.4 0a1.2 1.2 0 1 0 -2.4 0M503.22 78.6a1.2 1.2 0 1 0 2.4 0a1.2 1.2 0 1 0 -2.4 0M504.87 78.08a1.2 1.2 0 1 0 2.4 0a1.2 1.2 0 1 0 -2.4 0M508.45 78.3a1.2 1.2 0 1 0 2.4 0a1.2 1.2 0 1 0 -2.4 0M511.35 78.06a1.2 1.2 0 1 0 2.4 0a1.2 1.2 0 1 0 -2.4 0M514.58 78.51a1.2 1.2 0 1 0 2.4 0a1.2 1.2 0 1 0 -2.4 0M517.36 78.28a1.2 1.2 0 1 0 2.4 0a1.2 1.2 0 1 0 -2.4 0M520.44 78.1a1.2 1.2 0 1 0 2.4 0a1.2 1.2 0 1 0 -2.4 0M523.79 78.65a1.2 1.2 0 1 0 2.4 0a1.2 1.2 0 1 0 -2.4 0M526.43 79.12a1.2 1.2 0 1 0 2.4 0a1.2 1.2 0 1 0 -2.4 0M529.71 78.68a1.2 1.2 0 1 0 2.4 0a1.2 1.2 0 1 0 -2.4 0M533.66 78.1a1.2 1.2 0 1 0 2.4 0a1.2 1.2 0 1 0 -2.4 0M504.11 79.32a1.2 1.2 0 1 0 2.4 0a1.2 1.2 0 1 0 -2.4 0M508 79.87a1.2 1.2 0 1 0 2.4 0a1.2 1.2 0 1 0 -2.4 0M512.18 79.94a1.2 1.2 0 1 0 2.4 0a1.2 1.2 0 1 0 -2.4 0M515.25 79.74a1.2 1.2 0 1 0 2.4 0a1.2 1.2 0 1 0 -2.4 0M519 79.57a1.2 1.2 0 1 0 2.4 0a1.2 1.2 0 1 0 -2.4 0M524.56 79.99a1.2 1.2 0 1 0 2.4 0a1.2 1.2 0 1 0 -2.4 0M528.67 80.26a1.2 1.2 0 1 0 2.4 0a1.2 1.2 0 1 0 -2.4 0M531.04 80.12a1.2 1.2 0 1 0 2.4 0a1.2 1.2 0 1 0 -2.4 0M508.36 81.55a1.2 1.2 0 1 0 2.4 0a1.2 1.2 0 1 0 -2.4 0M513.13 80.86a1.2 1.2 0 1 0 2.4 0a1.2 1.2 0 1 0 -2.4 0M517.31 81.27a1.2 1.2 0 1 0 2.4 0a1.2 1.2 0 1 0 -2.4 0M522.28 81.76a1.2 1.2 0 1 0 2.4 0a1.2 1.2 0 1 0 -2.4 0M528.57 81.3a1.2 1.2 0 1 0 2.4 0a1.2 1.2 0 1 0 -2.4 0M513.64 83.02a1.2 1.2 0 1 0 2.4 0a1.2 1.2 0 1 0 -2.4 0M517.58 82.04a1.2 1.2 0 1 0 2.4 0a1.2 1.2 0 1 0 -2.4 0M521.55 82.21a1.2 1.2 0 1 0 2.4 0a1.2 1.2 0 1 0 -2.4 0M515.3 83.47a1.2 1.2 0 1 0 2.4 0a1.2 1.2 0 1 0 -2.4 0M517.3 83.34a1.2 1.2 0 1 0 2.4 0a1.2 1.2 0 1 0 -2.4 0" fill="#0c0c0c"/>
<path d="M586.25 42.3V66.6M575.25 42.3H597.25M575.25 66.6H597.25" fill="none" stroke="#111111" stroke-width="1.0"/>
<path d="M584.75 20.29h2.4v2.4h-2.4zM577.83 33.77h2.4v2.4h-2.4zM582.44 32.44h2.4v2.4h-2.4zM587.06 31.42h2.4v2.4h-2.4zM591.67 32.44h2.4v2.4h-2.4zM582.44 36.03h2.4v2.4h-2.4zM577.83 39.11h2.4v2.4h-2.4zM587.06 38.59h2.4v2.4h-2.4zM591.67 37.57h2.4v2.4h-2.4zM580.39 42.7h2.4v2.4h-2.4zM580.39 45.26h2.4v2.4h-2.4zM580.39 47.83h2.4v2.4h-2.4zM585.01 42.7h2.4v2.4h-2.4zM585.01 45.26h2.4v2.4h-2.4zM585.01 47.83h2.4v2.4h-2.4zM589.62 42.7h2.4v2.4h-2.4zM589.62 45.26h2.4v2.4h-2.4zM589.62 47.83h2.4v2.4h-2.4zM575.77 44.75h2.4v2.4h-2.4zM593.72 44.75h2.4v2.4h-2.4zM593.72 47.31h2.4v2.4h-2.4zM598.34 47.83h2.4v2.4h-2.4zM571.16 47.83h2.4v2.4h-2.4zM566.54 48.65h2.4v2.4h-2.4zM571.16 51.42h2.4v2.4h-2.4zM575.77 50.9h2.4v2.4h-2.4zM585.01 50.9h2.4v2.4h-2.4zM602.95 50.59h2.4v2.4h-2.4zM563.98 54.29h2.4v2.4h-2.4zM568.59 54.49h2.4v2.4h-2.4zM573.21 53.98h2.4v2.4h-2.4zM577.83 54.29h2.4v2.4h-2.4zM580.39 54.49h2.4v2.4h-2.4zM585.01 54.08h2.4v2.4h-2.4zM589.62 54.49h2.4v2.4h-2.4zM593.72 54.08h2.4v2.4h-2.4zM598.34 54.29h2.4v2.4h-2.4zM602.95 54.08h2.4v2.4h-2.4zM605.52 54.49h2.4v2.4h-2.4zM577.83 56.44h2.4v2.4h-2.4zM585.01 57.47h2.4v2.4h-2.4zM587.57 56.44h2.4v2.4h-2.4zM589.62 57.47h2.4v2.4h-2.4zM591.67 56.95h2.4v2.4h-2.4zM571.16 59.83h2.4v2.4h-2.4zM575.77 60.03h2.4v2.4h-2.4zM575.77 61.57h2.4v2.4h-2.4zM580.39 60.03h2.4v2.4h-2.4zM580.39 61.57h2.4v2.4h-2.4zM585.01 61.06h2.4v2.4h-2.4zM593.72 60.54h2.4v2.4h-2.4zM593.72 61.57h2.4v2.4h-2.4zM598.34 58.8h2.4v2.4h-2.4zM585.01 63.62h2.4v2.4h-2.4zM589.62 63.62h2.4v2.4h-2.4zM585.01 67.72h2.4v2.4h-2.4zM589.62 69.77h2.4v2.4h-2.4zM593.72 69.77h2.4v2.4h-2.4zM585.01 71.31h2.4v2.4h-2.4zM575.77 71.83h2.4v2.4h-2.4zM580.39 72.34h2.4v2.4h-2.4zM582.44 76.95h2.4v2.4h-2.4zM587.06 77.98h2.4v2.4h-2.4zM584.8 83.8h2.4v2.4h-2.4z" fill="#0c0c0c"/></g>
<g><path d="M65.4 271.15V233.1H109.2V271.15" fill="none" stroke="#111111" stroke-width="1.0"/>
<path d="M134.1 271.15V220.3H178V271.15" fill="none" stroke="#111111" stroke-width="1.0"/>
<path d="M41.6 164.45V271.15H202.3M37.3 271.15H41.6M37.3 235.58H41.6M37.3 200.02H41.6M37.3 164.45H41.6M87.3 271.15V275.35M156.05 271.15V275.35" fill="none" stroke="#111111" stroke-width="1.0"/>
<text x="32.25" y="273.95" font-size="8.6" text-anchor="end" textLength="4.45" lengthAdjust="spacingAndGlyphs" stroke="#161616" stroke-width="0.1">0</text>
<text x="32.25" y="238.28" font-size="8.6" text-anchor="end" textLength="8.9" lengthAdjust="spacingAndGlyphs" stroke="#161616" stroke-width="0.1">50</text>
<text x="32.25" y="202.62" font-size="8.6" text-anchor="end" textLength="13.35" lengthAdjust="spacingAndGlyphs" stroke="#161616" stroke-width="0.1">100</text>
<text x="32.25" y="166.95" font-size="8.6" text-anchor="end" textLength="13.35" lengthAdjust="spacingAndGlyphs" stroke="#161616" stroke-width="0.1">150</text>
<text x="87.3" y="289.15" text-anchor="middle" textLength="55.3" lengthAdjust="spacingAndGlyphs" stroke="#161616" stroke-width="0.1">Control group</text>
<text x="156.05" y="289.15" text-anchor="middle" textLength="60" lengthAdjust="spacingAndGlyphs" stroke="#161616" stroke-width="0.1">Research group</text>
<text x="99.2" y="308.85" text-anchor="middle" stroke="#161616" stroke-width="0.1">(d)</text>
<text transform="translate(8 216.8) rotate(-90)" text-anchor="middle" textLength="44.7" lengthAdjust="spacingAndGlyphs" stroke="#161616" stroke-width="0.1">CIV (<tspan font-style="italic">μ</tspan>g/L)</text>
<path d="M87.3 177H156.05" fill="none" stroke="#111111" stroke-width="1.0"/>
<text x="121.7" y="177.15" font-size="7.2" text-anchor="middle">*</text>
<path d="M87.3 225.6V239.4M76.3 225.6H98.3M76.3 239.4H98.3" fill="none" stroke="#111111" stroke-width="1.0"/>
<path d="M85.1 215.08a1.2 1.2 0 1 0 2.4 0a1.2 1.2 0 1 0 -2.4 0M87.1 215.36a1.2 1.2 0 1 0 2.4 0a1.2 1.2 0 1 0 -2.4 0M85.1 217.56a1.2 1.2 0 1 0 2.4 0a1.2 1.2 0 1 0 -2.4 0M89.1 216.45a1.2 1.2 0 1 0 2.4 0a1.2 1.2 0 1 0 -2.4 0M84.6 219.21a1.2 1.2 0 1 0 2.4 0a1.2 1.2 0 1 0 -2.4 0M87.6 219.57a1.2 1.2 0 1 0 2.4 0a1.2 1.2 0 1 0 -2.4 0M82.21 220.53a1.2 1.2 0 1 0 2.4 0a1.2 1.2 0 1 0 -2.4 0M84.93 220.49a1.2 1.2 0 1 0 2.4 0a1.2 1.2 0 1 0 -2.4 0M86.82 221.39a1.2 1.2 0 1 0 2.4 0a1.2 1.2 0 1 0 -2.4 0M89.89 221.24a1.2 1.2 0 1 0 2.4 0a1.2 1.2 0 1 0 -2.4 0M80.95 222.89a1.2 1.2 0 1 0 2.4 0a1.2 1.2 0 1 0 -2.4 0M82.72 222.8a1.2 1.2 0 1 0 2.4 0a1.2 1.2 0 1 0 -2.4 0M86.44 222.43a1.2 1.2 0 1 0 2.4 0a1.2 1.2 0 1 0 -2.4 0M89.17 223.54a1.2 1.2 0 1 0 2.4 0a1.2 1.2 0 1 0 -2.4 0M91.27 223.08a1.2 1.2 0 1 0 2.4 0a1.2 1.2 0 1 0 -2.4 0M80.11 225.59a1.2 1.2 0 1 0 2.4 0a1.2 1.2 0 1 0 -2.4 0M83.38 224.92a1.2 1.2 0 1 0 2.4 0a1.2 1.2 0 1 0 -2.4 0M84.77 225.51a1.2 1.2 0 1 0 2.4 0a1.2 1.2 0 1 0 -2.4 0M87.24 224.55a1.2 1.2 0 1 0 2.4 0a1.2 1.2 0 1 0 -2.4 0M89.74 225.45a1.2 1.2 0 1 0 2.4 0a1.2 1.2 0 1 0 -2.4 0M92.17 224.79a1.2 1.2 0 1 0 2.4 0a1.2 1.2 0 1 0 -2.4 0M81.46 227.08a1.2 1.2 0 1 0 2.4 0a1.2 1.2 0 1 0 -2.4 0M83.14 227.18a1.2 1.2 0 1 0 2.4 0a1.2 1.2 0 1 0 -2.4 0M86.44 227.49a1.2 1.2 0 1 0 2.4 0a1.2 1.2 0 1 0 -2.4 0M89.05 226.73a1.2 1.2 0 1 0 2.4 0a1.2 1.2 0 1 0 -2.4 0M91.03 227.52a1.2 1.2 0 1 0 2.4 0a1.2 1.2 0 1 0 -2.4 0M80.92 228.72a1.2 1.2 0 1 0 2.4 0a1.2 1.2 0 1 0 -2.4 0M82.43 228.63a1.2 1.2 0 1 0 2.4 0a1.2 1.2 0 1 0 -2.4 0M85.73 228.74a1.2 1.2 0 1 0 2.4 0a1.2 1.2 0 1 0 -2.4 0M86.87 228.41a1.2 1.2 0 1 0 2.4 0a1.2 1.2 0 1 0 -2.4 0M90.45 228.97a1.2 1.2 0 1 0 2.4 0a1.2 1.2 0 1 0 -2.4 0M92.18 229.51a1.2 1.2 0 1 0 2.4 0a1.2 1.2 0 1 0 -2.4 0M78.58 231.32a1.2 1.2 0 1 0 2.4 0a1.2 1.2 0 1 0 -2.4 0M80.55 230.88a1.2 1.2 0 1 0 2.4 0a1.2 1.2 0 1 0 -2.4 0M83.34 231.36a1.2 1.2 0 1 0 2.4 0a1.2 1.2 0 1 0 -2.4 0M86.07 230.66a1.2 1.2 0 1 0 2.4 0a1.2 1.2 0 1 0 -2.4 0M89.52 231.47a1.2 1.2 0 1 0 2.4 0a1.2 1.2 0 1 0 -2.4 0M91.94 231.33a1.2 1.2 0 1 0 2.4 0a1.2 1.2 0 1 0 -2.4 0M94.06 231.4a1.2 1.2 0 1 0 2.4 0a1.2 1.2 0 1 0 -2.4 0M64.03 232.41a1.2 1.2 0 1 0 2.4 0a1.2 1.2 0 1 0 -2.4 0M67.21 233.89a1.2 1.2 0 1 0 2.4 0a1.2 1.2 0 1 0 -2.4 0M68.01 233.53a1.2 1.2 0 1 0 2.4 0a1.2 1.2 0 1 0 -2.4 0M71.66 232.82a1.2 1.2 0 1 0 2.4 0a1.2 1.2 0 1 0 -2.4 0M73 233.96a1.2 1.2 0 1 0 2.4 0a1.2 1.2 0 1 0 -2.4 0M76.57 232.45a1.2 1.2 0 1 0 2.4 0a1.2 1.2 0 1 0 -2.4 0M77.59 232.28a1.2 1.2 0 1 0 2.4 0a1.2 1.2 0 1 0 -2.4 0M80.92 234.15a1.2 1.2 0 1 0 2.4 0a1.2 1.2 0 1 0 -2.4 0M82.45 233.23a1.2 1.2 0 1 0 2.4 0a1.2 1.2 0 1 0 -2.4 0M84.19 232.06a1.2 1.2 0 1 0 2.4 0a1.2 1.2 0 1 0 -2.4 0M87.04 233.92a1.2 1.2 0 1 0 2.4 0a1.2 1.2 0 1 0 -2.4 0M89.71 232.93a1.2 1.2 0 1 0 2.4 0a1.2 1.2 0 1 0 -2.4 0M91.61 232.13a1.2 1.2 0 1 0 2.4 0a1.2 1.2 0 1 0 -2.4 0M94.45 234.09a1.2 1.2 0 1 0 2.4 0a1.2 1.2 0 1 0 -2.4 0M95.68 233.92a1.2 1.2 0 1 0 2.4 0a1.2 1.2 0 1 0 -2.4 0M98.05 232.21a1.2 1.2 0 1 0 2.4 0a1.2 1.2 0 1 0 -2.4 0M101.37 233.71a1.2 1.2 0 1 0 2.4 0a1.2 1.2 0 1 0 -2.4 0M103.91 232.96a1.2 1.2 0 1 0 2.4 0a1.2 1.2 0 1 0 -2.4 0M105.06 232.47a1.2 1.2 0 1 0 2.4 0a1.2 1.2 0 1 0 -2.4 0M107.92 233.78a1.2 1.2 0 1 0 2.4 0a1.2 1.2 0 1 0 -2.4 0M76.96 234.82a1.2 1.2 0 1 0 2.4 0a1.2 1.2 0 1 0 -2.4 0M78.23 234.57a1.2 1.2 0 1 0 2.4 0a1.2 1.2 0 1 0 -2.4 0M80.93 234.61a1.2 1.2 0 1 0 2.4 0a1.2 1.2 0 1 0 -2.4 0M84.87 234.65a1.2 1.2 0 1 0 2.4 0a1.2 1.2 0 1 0 -2.4 0M87.05 234.78a1.2 1.2 0 1 0 2.4 0a1.2 1.2 0 1 0 -2.4 0M90.92 234.93a1.2 1.2 0 1 0 2.4 0a1.2 1.2 0 1 0 -2.4 0M92.47 234.47a1.2 1.2 0 1 0 2.4 0a1.2 1.2 0 1 0 -2.4 0M96.58 234.58a1.2 1.2 0 1 0 2.4 0a1.2 1.2 0 1 0 -2.4 0M74.48 236.53a1.2 1.2 0 1 0 2.4 0a1.2 1.2 0 1 0 -2.4 0M77.65 237.28a1.2 1.2 0 1 0 2.4 0a1.2 1.2 0 1 0 -2.4 0M82.02 236.94a1.2 1.2 0 1 0 2.4 0a1.2 1.2 0 1 0 -2.4 0M84.15 236.69a1.2 1.2 0 1 0 2.4 0a1.2 1.2 0 1 0 -2.4 0M87.63 237.08a1.2 1.2 0 1 0 2.4 0a1.2 1.2 0 1 0 -2.4 0M90.74 236.51a1.2 1.2 0 1 0 2.4 0a1.2 1.2 0 1 0 -2.4 0M94.05 237.14a1.2 1.2 0 1 0 2.4 0a1.2 1.2 0 1 0 -2.4 0M97.4 237.59a1.2 1.2 0 1 0 2.4 0a1.2 1.2 0 1 0 -2.4 0M75.46 238.64a1.2 1.2 0 1 0 2.4 0a1.2 1.2 0 1 0 -2.4 0M80.29 239.2a1.2 1.2 0 1 0 2.4 0a1.2 1.2 0 1 0 -2.4 0M82.42 238.54a1.2 1.2 0 1 0 2.4 0a1.2 1.2 0 1 0 -2.4 0M86.5 239.31a1.2 1.2 0 1 0 2.4 0a1.2 1.2 0 1 0 -2.4 0M89.39 239.01a1.2 1.2 0 1 0 2.4 0a1.2 1.2 0 1 0 -2.4 0M92.7 238.57a1.2 1.2 0 1 0 2.4 0a1.2 1.2 0 1 0 -2.4 0M95.41 239.05a1.2 1.2 0 1 0 2.4 0a1.2 1.2 0 1 0 -2.4 0M78.52 240.43a1.2 1.2 0 1 0 2.4 0a1.2 1.2 0 1 0 -2.4 0M82.65 240.53a1.2 1.2 0 1 0 2.4 0a1.2 1.2 0 1 0 -2.4 0M86.25 241.55a1.2 1.2 0 1 0 2.4 0a1.2 1.2 0 1 0 -2.4 0M90.09 240.57a1.2 1.2 0 1 0 2.4 0a1.2 1.2 0 1 0 -2.4 0M92.85 240.64a1.2 1.2 0 1 0 2.4 0a1.2 1.2 0 1 0 -2.4 0M81.91 243.14a1.2 1.2 0 1 0 2.4 0a1.2 1.2 0 1 0 -2.4 0M86.29 243.48a1.2 1.2 0 1 0 2.4 0a1.2 1.2 0 1 0 -2.4 0M89.52 243.48a1.2 1.2 0 1 0 2.4 0a1.2 1.2 0 1 0 -2.4 0M83.6 245.77a1.2 1.2 0 1 0 2.4 0a1.2 1.2 0 1 0 -2.4 0M88.6 245.7a1.2 1.2 0 1 0 2.4 0a1.2 1.2 0 1 0 -2.4 0M84.6 247.12a1.2 1.2 0 1 0 2.4 0a1.2 1.2 0 1 0 -2.4 0M87.6 246.92a1.2 1.2 0 1 0 2.4 0a1.2 1.2 0 1 0 -2.4 0M86.1 249.6a1.2 1.2 0 1 0 2.4 0a1.2 1.2 0 1 0 -2.4 0" fill="#0c0c0c"/>
<path d="M156.05 207.1V232.1M145.05 207.1H167.05M145.05 232.1H167.05" fill="none" stroke="#111111" stroke-width="1.0"/>
<path d="M153.06 188.75h2.4v2.4h-2.4zM156.65 189.16h2.4v2.4h-2.4zM154.8 192.75h2.4v2.4h-2.4zM153.06 196.95h2.4v2.4h-2.4zM156.65 196.44h2.4v2.4h-2.4zM153.06 202.8h2.4v2.4h-2.4zM156.13 203.62h2.4v2.4h-2.4zM159.72 203.62h2.4v2.4h-2.4zM149.98 204.85h2.4v2.4h-2.4zM154.8 208.34h2.4v2.4h-2.4zM158.7 209.36h2.4v2.4h-2.4zM146.39 210.39h2.4v2.4h-2.4zM148.44 211.93h2.4v2.4h-2.4zM153.06 211.93h2.4v2.4h-2.4zM156.13 211.42h2.4v2.4h-2.4zM163.83 211.93h2.4v2.4h-2.4zM144.34 213.47h2.4v2.4h-2.4zM152.54 213.47h2.4v2.4h-2.4zM165.36 212.95h2.4v2.4h-2.4zM140.75 216.03h2.4v2.4h-2.4zM147.93 216.54h2.4v2.4h-2.4zM151.52 215.01h2.4v2.4h-2.4zM155.62 214.49h2.4v2.4h-2.4zM155.62 216.03h2.4v2.4h-2.4zM155.62 217.26h2.4v2.4h-2.4zM158.7 214.49h2.4v2.4h-2.4zM158.7 216.03h2.4v2.4h-2.4zM158.7 217.26h2.4v2.4h-2.4zM161.77 214.49h2.4v2.4h-2.4zM161.77 216.03h2.4v2.4h-2.4zM161.77 217.26h2.4v2.4h-2.4zM168.44 215.83h2.4v2.4h-2.4zM133.57 221.98h2.4v2.4h-2.4zM137.67 221.67h2.4v2.4h-2.4zM141.26 220.13h2.4v2.4h-2.4zM142.8 222.7h2.4v2.4h-2.4zM144.85 223.21h2.4v2.4h-2.4zM147.42 222.7h2.4v2.4h-2.4zM149.98 223.01h2.4v2.4h-2.4zM152.54 222.18h2.4v2.4h-2.4zM154.59 223.72h2.4v2.4h-2.4zM157.67 222.18h2.4v2.4h-2.4zM159.72 223.21h2.4v2.4h-2.4zM163.83 223.21h2.4v2.4h-2.4zM166.9 223.72h2.4v2.4h-2.4zM168.95 221.67h2.4v2.4h-2.4zM172.03 221.16h2.4v2.4h-2.4zM175.62 220.13h2.4v2.4h-2.4zM156.13 225.77h2.4v2.4h-2.4zM153.06 230.39h2.4v2.4h-2.4zM156.13 230.39h2.4v2.4h-2.4zM153.06 232.44h2.4v2.4h-2.4zM156.13 232.44h2.4v2.4h-2.4zM149.47 234.49h2.4v2.4h-2.4zM156.65 234.7h2.4v2.4h-2.4zM159.72 234.49h2.4v2.4h-2.4zM153.06 236.54h2.4v2.4h-2.4zM153.8 235.4h2.4v2.4h-2.4zM149.3 238.6h2.4v2.4h-2.4zM158.8 238.3h2.4v2.4h-2.4zM155.8 242.1h2.4v2.4h-2.4zM158.3 244.4h2.4v2.4h-2.4zM154.8 252.3h2.4v2.4h-2.4z" fill="#0c0c0c"/></g>
<g><path d="M280.5 271.15V227.1H324.3V271.15" fill="none" stroke="#111111" stroke-width="1.0"/>
<path d="M349.2 271.15V209.7H393.1V271.15" fill="none" stroke="#111111" stroke-width="1.0"/>
<path d="M256.7 164.45V271.15H417.4M252.4 271.15H256.7M252.4 244.47H256.7M252.4 217.8H256.7M252.4 191.12H256.7M252.4 164.45H256.7M302.4 271.15V275.35M371.15 271.15V275.35" fill="none" stroke="#111111" stroke-width="1.0"/>
<text x="247.35" y="273.95" font-size="8.6" text-anchor="end" textLength="4.45" lengthAdjust="spacingAndGlyphs" stroke="#161616" stroke-width="0.1">0</text>
<text x="247.35" y="247.2" font-size="8.6" text-anchor="end" textLength="8.9" lengthAdjust="spacingAndGlyphs" stroke="#161616" stroke-width="0.1">50</text>
<text x="247.35" y="220.45" font-size="8.6" text-anchor="end" textLength="13.35" lengthAdjust="spacingAndGlyphs" stroke="#161616" stroke-width="0.1">100</text>
<text x="247.35" y="193.7" font-size="8.6" text-anchor="end" textLength="13.35" lengthAdjust="spacingAndGlyphs" stroke="#161616" stroke-width="0.1">150</text>
<text x="247.35" y="166.95" font-size="8.6" text-anchor="end" textLength="13.35" lengthAdjust="spacingAndGlyphs" stroke="#161616" stroke-width="0.1">200</text>
<text x="302.4" y="289.15" text-anchor="middle" textLength="55.3" lengthAdjust="spacingAndGlyphs" stroke="#161616" stroke-width="0.1">Control group</text>
<text x="371.15" y="289.15" text-anchor="middle" textLength="60" lengthAdjust="spacingAndGlyphs" stroke="#161616" stroke-width="0.1">Research group</text>
<text x="314.3" y="308.85" text-anchor="middle" stroke="#161616" stroke-width="0.1">(e)</text>
<text transform="translate(223.1 218.2) rotate(-90)" text-anchor="middle" textLength="39.4" lengthAdjust="spacingAndGlyphs" stroke="#161616" stroke-width="0.1">LN (<tspan font-style="italic">μ</tspan>g/L)</text>
<path d="M302.4 172.4H371.15" fill="none" stroke="#111111" stroke-width="1.0"/>
<text x="336.8" y="172.55" font-size="7.2" text-anchor="middle">*</text>
<path d="M302.4 215.2V237.1M291.4 215.2H313.4M291.4 237.1H313.4" fill="none" stroke="#111111" stroke-width="1.0"/>
<path d="M301.31 203.13a1.2 1.2 0 1 0 2.4 0a1.2 1.2 0 1 0 -2.4 0M296.7 208.77a1.2 1.2 0 1 0 2.4 0a1.2 1.2 0 1 0 -2.4 0M301.31 208.77a1.2 1.2 0 1 0 2.4 0a1.2 1.2 0 1 0 -2.4 0M305.72 208.77a1.2 1.2 0 1 0 2.4 0a1.2 1.2 0 1 0 -2.4 0M289.83 210.51a1.2 1.2 0 1 0 2.4 0a1.2 1.2 0 1 0 -2.4 0M299.06 211.54a1.2 1.2 0 1 0 2.4 0a1.2 1.2 0 1 0 -2.4 0M303.67 211.54a1.2 1.2 0 1 0 2.4 0a1.2 1.2 0 1 0 -2.4 0M308.29 211.13a1.2 1.2 0 1 0 2.4 0a1.2 1.2 0 1 0 -2.4 0M312.7 211.85a1.2 1.2 0 1 0 2.4 0a1.2 1.2 0 1 0 -2.4 0M294.44 212.87a1.2 1.2 0 1 0 2.4 0a1.2 1.2 0 1 0 -2.4 0M301.31 213.38a1.2 1.2 0 1 0 2.4 0a1.2 1.2 0 1 0 -2.4 0M303.67 213.9a1.2 1.2 0 1 0 2.4 0a1.2 1.2 0 1 0 -2.4 0M305.72 214.41a1.2 1.2 0 1 0 2.4 0a1.2 1.2 0 1 0 -2.4 0M285.21 217.49a1.2 1.2 0 1 0 2.4 0a1.2 1.2 0 1 0 -2.4 0M289.83 217.28a1.2 1.2 0 1 0 2.4 0a1.2 1.2 0 1 0 -2.4 0M294.44 216.46a1.2 1.2 0 1 0 2.4 0a1.2 1.2 0 1 0 -2.4 0M296.7 216.67a1.2 1.2 0 1 0 2.4 0a1.2 1.2 0 1 0 -2.4 0M299.06 216.97a1.2 1.2 0 1 0 2.4 0a1.2 1.2 0 1 0 -2.4 0M303.67 217.49a1.2 1.2 0 1 0 2.4 0a1.2 1.2 0 1 0 -2.4 0M308.29 216.97a1.2 1.2 0 1 0 2.4 0a1.2 1.2 0 1 0 -2.4 0M312.7 218a1.2 1.2 0 1 0 2.4 0a1.2 1.2 0 1 0 -2.4 0M317.01 218.51a1.2 1.2 0 1 0 2.4 0a1.2 1.2 0 1 0 -2.4 0M321.62 217.49a1.2 1.2 0 1 0 2.4 0a1.2 1.2 0 1 0 -2.4 0M280.9 219.54a1.2 1.2 0 1 0 2.4 0a1.2 1.2 0 1 0 -2.4 0M296.7 219.85a1.2 1.2 0 1 0 2.4 0a1.2 1.2 0 1 0 -2.4 0M305.72 220.56a1.2 1.2 0 1 0 2.4 0a1.2 1.2 0 1 0 -2.4 0M283.16 222.62a1.2 1.2 0 1 0 2.4 0a1.2 1.2 0 1 0 -2.4 0M287.77 222.62a1.2 1.2 0 1 0 2.4 0a1.2 1.2 0 1 0 -2.4 0M292.18 222.62a1.2 1.2 0 1 0 2.4 0a1.2 1.2 0 1 0 -2.4 0M294.44 222.92a1.2 1.2 0 1 0 2.4 0a1.2 1.2 0 1 0 -2.4 0M299.06 222.92a1.2 1.2 0 1 0 2.4 0a1.2 1.2 0 1 0 -2.4 0M301.31 222.1a1.2 1.2 0 1 0 2.4 0a1.2 1.2 0 1 0 -2.4 0M310.34 222.62a1.2 1.2 0 1 0 2.4 0a1.2 1.2 0 1 0 -2.4 0M314.95 222.1a1.2 1.2 0 1 0 2.4 0a1.2 1.2 0 1 0 -2.4 0M319.57 222.1a1.2 1.2 0 1 0 2.4 0a1.2 1.2 0 1 0 -2.4 0M285.21 225.18a1.2 1.2 0 1 0 2.4 0a1.2 1.2 0 1 0 -2.4 0M289.83 225.49a1.2 1.2 0 1 0 2.4 0a1.2 1.2 0 1 0 -2.4 0M299.06 225.49a1.2 1.2 0 1 0 2.4 0a1.2 1.2 0 1 0 -2.4 0M303.67 225.69a1.2 1.2 0 1 0 2.4 0a1.2 1.2 0 1 0 -2.4 0M308.29 225.49a1.2 1.2 0 1 0 2.4 0a1.2 1.2 0 1 0 -2.4 0M312.7 225.49a1.2 1.2 0 1 0 2.4 0a1.2 1.2 0 1 0 -2.4 0M317.01 224.87a1.2 1.2 0 1 0 2.4 0a1.2 1.2 0 1 0 -2.4 0M294.44 228.62a1.2 1.2 0 1 0 2.4 0a1.2 1.2 0 1 0 -2.4 0M299.06 229.95a1.2 1.2 0 1 0 2.4 0a1.2 1.2 0 1 0 -2.4 0M303.67 229.13a1.2 1.2 0 1 0 2.4 0a1.2 1.2 0 1 0 -2.4 0M308.29 228.62a1.2 1.2 0 1 0 2.4 0a1.2 1.2 0 1 0 -2.4 0M308.29 230.15a1.2 1.2 0 1 0 2.4 0a1.2 1.2 0 1 0 -2.4 0M294.44 231.69a1.2 1.2 0 1 0 2.4 0a1.2 1.2 0 1 0 -2.4 0M303.67 233.23a1.2 1.2 0 1 0 2.4 0a1.2 1.2 0 1 0 -2.4 0M285.21 235.79a1.2 1.2 0 1 0 2.4 0a1.2 1.2 0 1 0 -2.4 0M289.83 235.79a1.2 1.2 0 1 0 2.4 0a1.2 1.2 0 1 0 -2.4 0M294.44 236.51a1.2 1.2 0 1 0 2.4 0a1.2 1.2 0 1 0 -2.4 0M299.06 235.79a1.2 1.2 0 1 0 2.4 0a1.2 1.2 0 1 0 -2.4 0M303.67 234.77a1.2 1.2 0 1 0 2.4 0a1.2 1.2 0 1 0 -2.4 0M303.67 236.31a1.2 1.2 0 1 0 2.4 0a1.2 1.2 0 1 0 -2.4 0M308.29 234.26a1.2 1.2 0 1 0 2.4 0a1.2 1.2 0 1 0 -2.4 0M312.7 235.08a1.2 1.2 0 1 0 2.4 0a1.2 1.2 0 1 0 -2.4 0M317.01 235.79a1.2 1.2 0 1 0 2.4 0a1.2 1.2 0 1 0 -2.4 0M303.67 238.36a1.2 1.2 0 1 0 2.4 0a1.2 1.2 0 1 0 -2.4 0M285.21 239.18a1.2 1.2 0 1 0 2.4 0a1.2 1.2 0 1 0 -2.4 0M289.83 239.9a1.2 1.2 0 1 0 2.4 0a1.2 1.2 0 1 0 -2.4 0M294.44 240.92a1.2 1.2 0 1 0 2.4 0a1.2 1.2 0 1 0 -2.4 0M299.06 240.92a1.2 1.2 0 1 0 2.4 0a1.2 1.2 0 1 0 -2.4 0M303.67 241.95a1.2 1.2 0 1 0 2.4 0a1.2 1.2 0 1 0 -2.4 0M308.29 240.21a1.2 1.2 0 1 0 2.4 0a1.2 1.2 0 1 0 -2.4 0M312.7 241.44a1.2 1.2 0 1 0 2.4 0a1.2 1.2 0 1 0 -2.4 0M317.01 239.38a1.2 1.2 0 1 0 2.4 0a1.2 1.2 0 1 0 -2.4 0M289.83 244.31a1.2 1.2 0 1 0 2.4 0a1.2 1.2 0 1 0 -2.4 0M294.44 244.51a1.2 1.2 0 1 0 2.4 0a1.2 1.2 0 1 0 -2.4 0M299.06 244.72a1.2 1.2 0 1 0 2.4 0a1.2 1.2 0 1 0 -2.4 0M308.29 244.82a1.2 1.2 0 1 0 2.4 0a1.2 1.2 0 1 0 -2.4 0M301.31 249.13a1.2 1.2 0 1 0 2.4 0a1.2 1.2 0 1 0 -2.4 0" fill="#0c0c0c"/>
<path d="M371.15 196.1V220.4M360.15 196.1H382.15M360.15 220.4H382.15" fill="none" stroke="#111111" stroke-width="1.0"/>
<path d="M369.8 185.16h2.4v2.4h-2.4zM369.8 186.8h2.4v2.4h-2.4zM365.7 188.54h2.4v2.4h-2.4zM365.7 189.88h2.4v2.4h-2.4zM373.7 188.54h2.4v2.4h-2.4zM369.8 190.29h2.4v2.4h-2.4zM361.59 192.13h2.4v2.4h-2.4zM373.7 191.93h2.4v2.4h-2.4zM378.01 191.62h2.4v2.4h-2.4zM367.54 194.7h2.4v2.4h-2.4zM371.65 195.21h2.4v2.4h-2.4zM351.13 197.26h2.4v2.4h-2.4zM363.65 197.47h2.4v2.4h-2.4zM368.06 197.77h2.4v2.4h-2.4zM375.95 197.06h2.4v2.4h-2.4zM379.85 197.26h2.4v2.4h-2.4zM383.95 198.08h2.4v2.4h-2.4zM388.06 198.8h2.4v2.4h-2.4zM355.24 199.11h2.4v2.4h-2.4zM359.85 199.31h2.4v2.4h-2.4zM361.39 200.34h2.4v2.4h-2.4zM369.8 198.29h2.4v2.4h-2.4zM373.7 200.85h2.4v2.4h-2.4zM365.7 202.59h2.4v2.4h-2.4zM369.8 202.9h2.4v2.4h-2.4zM378.01 203.42h2.4v2.4h-2.4zM349.08 205.36h2.4v2.4h-2.4zM353.18 205.36h2.4v2.4h-2.4zM357.29 206.9h2.4v2.4h-2.4zM359.85 207.72h2.4v2.4h-2.4zM362.42 207.42h2.4v2.4h-2.4zM365.49 206.9h2.4v2.4h-2.4zM368.06 207.93h2.4v2.4h-2.4zM369.8 206.7h2.4v2.4h-2.4zM372.16 207.72h2.4v2.4h-2.4zM374.72 207.93h2.4v2.4h-2.4zM378.01 207.42h2.4v2.4h-2.4zM381.9 206.9h2.4v2.4h-2.4zM386.01 206.9h2.4v2.4h-2.4zM390.11 207.11h2.4v2.4h-2.4zM368.06 209.77h2.4v2.4h-2.4zM372.16 209.98h2.4v2.4h-2.4zM375.95 209.47h2.4v2.4h-2.4zM375.95 211.83h2.4v2.4h-2.4zM379.85 211.01h2.4v2.4h-2.4zM379.85 212.65h2.4v2.4h-2.4zM371.65 212.54h2.4v2.4h-2.4zM359.54 213.06h2.4v2.4h-2.4zM363.65 215.11h2.4v2.4h-2.4zM363.65 216.65h2.4v2.4h-2.4zM368.06 215.11h2.4v2.4h-2.4zM371.65 215.62h2.4v2.4h-2.4zM371.65 217.16h2.4v2.4h-2.4zM375.95 216.65h2.4v2.4h-2.4zM367.54 217.67h2.4v2.4h-2.4zM363.65 219.21h2.4v2.4h-2.4zM367.54 220.75h2.4v2.4h-2.4zM371.65 221.77h2.4v2.4h-2.4zM375.95 221.26h2.4v2.4h-2.4zM367.54 225.16h2.4v2.4h-2.4zM365.7 229.98h2.4v2.4h-2.4zM369.8 229.98h2.4v2.4h-2.4zM373.7 232.34h2.4v2.4h-2.4zM369.8 236h2.4v2.4h-2.4zM369.8 242.3h2.4v2.4h-2.4z" fill="#0c0c0c"/></g>
<g><path d="M495.6 271.15V231H539.4V271.15" fill="none" stroke="#111111" stroke-width="1.0"/>
<path d="M564.3 271.15V220.3H608.2V271.15" fill="none" stroke="#111111" stroke-width="1.0"/>
<path d="M471.8 164.45V271.15H632.5M467.5 271.15H471.8M467.5 244.47H471.8M467.5 217.8H471.8M467.5 191.12H471.8M467.5 164.45H471.8M517.5 271.15V275.35M586.25 271.15V275.35" fill="none" stroke="#111111" stroke-width="1.0"/>
<text x="462.45" y="273.95" font-size="8.6" text-anchor="end" textLength="4.45" lengthAdjust="spacingAndGlyphs" stroke="#161616" stroke-width="0.1">0</text>
<text x="462.45" y="247.2" font-size="8.6" text-anchor="end" textLength="8.9" lengthAdjust="spacingAndGlyphs" stroke="#161616" stroke-width="0.1">50</text>
<text x="462.45" y="220.45" font-size="8.6" text-anchor="end" textLength="13.35" lengthAdjust="spacingAndGlyphs" stroke="#161616" stroke-width="0.1">100</text>
<text x="462.45" y="193.7" font-size="8.6" text-anchor="end" textLength="13.35" lengthAdjust="spacingAndGlyphs" stroke="#161616" stroke-width="0.1">150</text>
<text x="462.45" y="166.95" font-size="8.6" text-anchor="end" textLength="13.35" lengthAdjust="spacingAndGlyphs" stroke="#161616" stroke-width="0.1">200</text>
<text x="517.5" y="289.15" text-anchor="middle" textLength="55.3" lengthAdjust="spacingAndGlyphs" stroke="#161616" stroke-width="0.1">Control group</text>
<text x="586.25" y="289.15" text-anchor="middle" textLength="60" lengthAdjust="spacingAndGlyphs" stroke="#161616" stroke-width="0.1">Research group</text>
<text x="529.4" y="308.85" text-anchor="middle" stroke="#161616" stroke-width="0.1">(f)</text>
<text transform="translate(438.2 218) rotate(-90)" text-anchor="middle" textLength="41.3" lengthAdjust="spacingAndGlyphs" stroke="#161616" stroke-width="0.1">HA (<tspan font-style="italic">μ</tspan>g/L)</text>
<path d="M517.5 176.8H586.25" fill="none" stroke="#111111" stroke-width="1.0"/>
<text x="551.9" y="176.95" font-size="7.2" text-anchor="middle">*</text>
<path d="M517.5 224.6V237.4M506.5 224.6H528.5M506.5 237.4H528.5" fill="none" stroke="#111111" stroke-width="1.0"/>
<path d="M516.3 215.2a1.2 1.2 0 1 0 2.4 0a1.2 1.2 0 1 0 -2.4 0M514.8 217.89a1.2 1.2 0 1 0 2.4 0a1.2 1.2 0 1 0 -2.4 0M517.8 217.97a1.2 1.2 0 1 0 2.4 0a1.2 1.2 0 1 0 -2.4 0M512.74 219.26a1.2 1.2 0 1 0 2.4 0a1.2 1.2 0 1 0 -2.4 0M516.26 219.1a1.2 1.2 0 1 0 2.4 0a1.2 1.2 0 1 0 -2.4 0M518.57 219.79a1.2 1.2 0 1 0 2.4 0a1.2 1.2 0 1 0 -2.4 0M509.5 221.79a1.2 1.2 0 1 0 2.4 0a1.2 1.2 0 1 0 -2.4 0M513.82 221.43a1.2 1.2 0 1 0 2.4 0a1.2 1.2 0 1 0 -2.4 0M516.75 220.96a1.2 1.2 0 1 0 2.4 0a1.2 1.2 0 1 0 -2.4 0M520.14 221.07a1.2 1.2 0 1 0 2.4 0a1.2 1.2 0 1 0 -2.4 0M523.4 221.49a1.2 1.2 0 1 0 2.4 0a1.2 1.2 0 1 0 -2.4 0M508.61 223.72a1.2 1.2 0 1 0 2.4 0a1.2 1.2 0 1 0 -2.4 0M511.17 223.05a1.2 1.2 0 1 0 2.4 0a1.2 1.2 0 1 0 -2.4 0M513.8 223.86a1.2 1.2 0 1 0 2.4 0a1.2 1.2 0 1 0 -2.4 0M518.12 223.15a1.2 1.2 0 1 0 2.4 0a1.2 1.2 0 1 0 -2.4 0M520.99 223.65a1.2 1.2 0 1 0 2.4 0a1.2 1.2 0 1 0 -2.4 0M524.79 223.55a1.2 1.2 0 1 0 2.4 0a1.2 1.2 0 1 0 -2.4 0M505.39 225.93a1.2 1.2 0 1 0 2.4 0a1.2 1.2 0 1 0 -2.4 0M507.59 225.94a1.2 1.2 0 1 0 2.4 0a1.2 1.2 0 1 0 -2.4 0M511.84 226.06a1.2 1.2 0 1 0 2.4 0a1.2 1.2 0 1 0 -2.4 0M514.14 224.94a1.2 1.2 0 1 0 2.4 0a1.2 1.2 0 1 0 -2.4 0M517.51 225.14a1.2 1.2 0 1 0 2.4 0a1.2 1.2 0 1 0 -2.4 0M521.12 225.25a1.2 1.2 0 1 0 2.4 0a1.2 1.2 0 1 0 -2.4 0M523.29 225.23a1.2 1.2 0 1 0 2.4 0a1.2 1.2 0 1 0 -2.4 0M528.1 226.03a1.2 1.2 0 1 0 2.4 0a1.2 1.2 0 1 0 -2.4 0M504.1 227.25a1.2 1.2 0 1 0 2.4 0a1.2 1.2 0 1 0 -2.4 0M506.26 227.9a1.2 1.2 0 1 0 2.4 0a1.2 1.2 0 1 0 -2.4 0M509.37 227.22a1.2 1.2 0 1 0 2.4 0a1.2 1.2 0 1 0 -2.4 0M513.31 227.1a1.2 1.2 0 1 0 2.4 0a1.2 1.2 0 1 0 -2.4 0M516.22 226.98a1.2 1.2 0 1 0 2.4 0a1.2 1.2 0 1 0 -2.4 0M519.16 227.84a1.2 1.2 0 1 0 2.4 0a1.2 1.2 0 1 0 -2.4 0M523.19 227.89a1.2 1.2 0 1 0 2.4 0a1.2 1.2 0 1 0 -2.4 0M525.97 228.07a1.2 1.2 0 1 0 2.4 0a1.2 1.2 0 1 0 -2.4 0M528.07 227.11a1.2 1.2 0 1 0 2.4 0a1.2 1.2 0 1 0 -2.4 0M501.89 229.69a1.2 1.2 0 1 0 2.4 0a1.2 1.2 0 1 0 -2.4 0M505.99 229.39a1.2 1.2 0 1 0 2.4 0a1.2 1.2 0 1 0 -2.4 0M508.3 229.14a1.2 1.2 0 1 0 2.4 0a1.2 1.2 0 1 0 -2.4 0M512.4 229.42a1.2 1.2 0 1 0 2.4 0a1.2 1.2 0 1 0 -2.4 0M514.21 228.72a1.2 1.2 0 1 0 2.4 0a1.2 1.2 0 1 0 -2.4 0M517.11 228.76a1.2 1.2 0 1 0 2.4 0a1.2 1.2 0 1 0 -2.4 0M520.78 229.05a1.2 1.2 0 1 0 2.4 0a1.2 1.2 0 1 0 -2.4 0M524.38 228.73a1.2 1.2 0 1 0 2.4 0a1.2 1.2 0 1 0 -2.4 0M526.93 228.92a1.2 1.2 0 1 0 2.4 0a1.2 1.2 0 1 0 -2.4 0M531.05 229.65a1.2 1.2 0 1 0 2.4 0a1.2 1.2 0 1 0 -2.4 0M494.44 230.34a1.2 1.2 0 1 0 2.4 0a1.2 1.2 0 1 0 -2.4 0M497.84 231.84a1.2 1.2 0 1 0 2.4 0a1.2 1.2 0 1 0 -2.4 0M500.13 230.32a1.2 1.2 0 1 0 2.4 0a1.2 1.2 0 1 0 -2.4 0M502.47 231.01a1.2 1.2 0 1 0 2.4 0a1.2 1.2 0 1 0 -2.4 0M505.88 231.15a1.2 1.2 0 1 0 2.4 0a1.2 1.2 0 1 0 -2.4 0M508.42 230.26a1.2 1.2 0 1 0 2.4 0a1.2 1.2 0 1 0 -2.4 0M512.73 230.81a1.2 1.2 0 1 0 2.4 0a1.2 1.2 0 1 0 -2.4 0M514.43 229.97a1.2 1.2 0 1 0 2.4 0a1.2 1.2 0 1 0 -2.4 0M517.86 231.66a1.2 1.2 0 1 0 2.4 0a1.2 1.2 0 1 0 -2.4 0M521.36 230.02a1.2 1.2 0 1 0 2.4 0a1.2 1.2 0 1 0 -2.4 0M523.06 230.71a1.2 1.2 0 1 0 2.4 0a1.2 1.2 0 1 0 -2.4 0M526.19 231.52a1.2 1.2 0 1 0 2.4 0a1.2 1.2 0 1 0 -2.4 0M530.09 230.65a1.2 1.2 0 1 0 2.4 0a1.2 1.2 0 1 0 -2.4 0M531.67 231.67a1.2 1.2 0 1 0 2.4 0a1.2 1.2 0 1 0 -2.4 0M535.34 230.31a1.2 1.2 0 1 0 2.4 0a1.2 1.2 0 1 0 -2.4 0M538.08 231.3a1.2 1.2 0 1 0 2.4 0a1.2 1.2 0 1 0 -2.4 0M501.88 233.48a1.2 1.2 0 1 0 2.4 0a1.2 1.2 0 1 0 -2.4 0M504.31 232.51a1.2 1.2 0 1 0 2.4 0a1.2 1.2 0 1 0 -2.4 0M507.83 232.91a1.2 1.2 0 1 0 2.4 0a1.2 1.2 0 1 0 -2.4 0M511.54 232.54a1.2 1.2 0 1 0 2.4 0a1.2 1.2 0 1 0 -2.4 0M514.1 232.66a1.2 1.2 0 1 0 2.4 0a1.2 1.2 0 1 0 -2.4 0M518.07 232.64a1.2 1.2 0 1 0 2.4 0a1.2 1.2 0 1 0 -2.4 0M521.19 233.15a1.2 1.2 0 1 0 2.4 0a1.2 1.2 0 1 0 -2.4 0M525.53 232.56a1.2 1.2 0 1 0 2.4 0a1.2 1.2 0 1 0 -2.4 0M527.34 233.4a1.2 1.2 0 1 0 2.4 0a1.2 1.2 0 1 0 -2.4 0M531.22 233.06a1.2 1.2 0 1 0 2.4 0a1.2 1.2 0 1 0 -2.4 0M502.39 234.64a1.2 1.2 0 1 0 2.4 0a1.2 1.2 0 1 0 -2.4 0M505.11 234.73a1.2 1.2 0 1 0 2.4 0a1.2 1.2 0 1 0 -2.4 0M510.08 234.71a1.2 1.2 0 1 0 2.4 0a1.2 1.2 0 1 0 -2.4 0M512.27 234.63a1.2 1.2 0 1 0 2.4 0a1.2 1.2 0 1 0 -2.4 0M515.72 235.48a1.2 1.2 0 1 0 2.4 0a1.2 1.2 0 1 0 -2.4 0M520.39 235.26a1.2 1.2 0 1 0 2.4 0a1.2 1.2 0 1 0 -2.4 0M522.78 234.64a1.2 1.2 0 1 0 2.4 0a1.2 1.2 0 1 0 -2.4 0M526.63 234.43a1.2 1.2 0 1 0 2.4 0a1.2 1.2 0 1 0 -2.4 0M530.38 235.06a1.2 1.2 0 1 0 2.4 0a1.2 1.2 0 1 0 -2.4 0M504.95 236.74a1.2 1.2 0 1 0 2.4 0a1.2 1.2 0 1 0 -2.4 0M508.89 237.26a1.2 1.2 0 1 0 2.4 0a1.2 1.2 0 1 0 -2.4 0M512.52 237.39a1.2 1.2 0 1 0 2.4 0a1.2 1.2 0 1 0 -2.4 0M516.8 236.81a1.2 1.2 0 1 0 2.4 0a1.2 1.2 0 1 0 -2.4 0M520.6 237.22a1.2 1.2 0 1 0 2.4 0a1.2 1.2 0 1 0 -2.4 0M523.87 236.63a1.2 1.2 0 1 0 2.4 0a1.2 1.2 0 1 0 -2.4 0M526.98 237.5a1.2 1.2 0 1 0 2.4 0a1.2 1.2 0 1 0 -2.4 0M509.42 238.94a1.2 1.2 0 1 0 2.4 0a1.2 1.2 0 1 0 -2.4 0M513.67 239.22a1.2 1.2 0 1 0 2.4 0a1.2 1.2 0 1 0 -2.4 0M518.31 239.32a1.2 1.2 0 1 0 2.4 0a1.2 1.2 0 1 0 -2.4 0M523.72 239.11a1.2 1.2 0 1 0 2.4 0a1.2 1.2 0 1 0 -2.4 0M512.45 241.37a1.2 1.2 0 1 0 2.4 0a1.2 1.2 0 1 0 -2.4 0M517.19 240.57a1.2 1.2 0 1 0 2.4 0a1.2 1.2 0 1 0 -2.4 0M520.02 240.85a1.2 1.2 0 1 0 2.4 0a1.2 1.2 0 1 0 -2.4 0M514.8 242.67a1.2 1.2 0 1 0 2.4 0a1.2 1.2 0 1 0 -2.4 0M517.8 241.81a1.2 1.2 0 1 0 2.4 0a1.2 1.2 0 1 0 -2.4 0M516.3 251.8a1.2 1.2 0 1 0 2.4 0a1.2 1.2 0 1 0 -2.4 0M516.3 255.2a1.2 1.2 0 1 0 2.4 0a1.2 1.2 0 1 0 -2.4 0" fill="#0c0c0c"/>
<path d="M586.25 208.4V230.5M575.25 208.4H597.25M575.25 230.5H597.25" fill="none" stroke="#111111" stroke-width="1.0"/>
<path d="M582.34 189.77h2.4v2.4h-2.4zM586.85 190.18h2.4v2.4h-2.4zM589.21 199.72h2.4v2.4h-2.4zM580.29 201.47h2.4v2.4h-2.4zM584.59 201.47h2.4v2.4h-2.4zM582.54 203.31h2.4v2.4h-2.4zM587.16 204.34h2.4v2.4h-2.4zM591.57 204.34h2.4v2.4h-2.4zM577.93 205.36h2.4v2.4h-2.4zM573.31 206.18h2.4v2.4h-2.4zM596.08 206.18h2.4v2.4h-2.4zM582.54 207.93h2.4v2.4h-2.4zM584.8 209.67h2.4v2.4h-2.4zM587.16 209.67h2.4v2.4h-2.4zM589.21 210.29h2.4v2.4h-2.4zM593.83 210.29h2.4v2.4h-2.4zM566.13 210.29h2.4v2.4h-2.4zM598.44 212.03h2.4v2.4h-2.4zM602.85 212.34h2.4v2.4h-2.4zM571.26 213.06h2.4v2.4h-2.4zM575.88 212.03h2.4v2.4h-2.4zM578.44 213.06h2.4v2.4h-2.4zM580.49 212.54h2.4v2.4h-2.4zM584.8 212.54h2.4v2.4h-2.4zM587.16 213.06h2.4v2.4h-2.4zM571.26 216.49h2.4v2.4h-2.4zM575.88 217.01h2.4v2.4h-2.4zM582.54 215.98h2.4v2.4h-2.4zM584.8 217.52h2.4v2.4h-2.4zM591.77 216.49h2.4v2.4h-2.4zM593.83 217.52h2.4v2.4h-2.4zM598.44 217.52h2.4v2.4h-2.4zM564.08 221.62h2.4v2.4h-2.4zM568.7 221.11h2.4v2.4h-2.4zM573.31 220.59h2.4v2.4h-2.4zM577.93 222.13h2.4v2.4h-2.4zM582.54 221.11h2.4v2.4h-2.4zM587.16 220.59h2.4v2.4h-2.4zM589.21 221.62h2.4v2.4h-2.4zM591.77 222.13h2.4v2.4h-2.4zM595.88 221.11h2.4v2.4h-2.4zM600.49 220.59h2.4v2.4h-2.4zM605.11 220.29h2.4v2.4h-2.4zM571.26 224.18h2.4v2.4h-2.4zM573.31 227.26h2.4v2.4h-2.4zM575.88 224.18h2.4v2.4h-2.4zM577.93 227.77h2.4v2.4h-2.4zM580.49 225.21h2.4v2.4h-2.4zM582.54 228.29h2.4v2.4h-2.4zM584.8 223.67h2.4v2.4h-2.4zM587.16 223.67h2.4v2.4h-2.4zM589.21 223.16h2.4v2.4h-2.4zM591.77 223.16h2.4v2.4h-2.4zM593.83 227.26h2.4v2.4h-2.4zM595.88 227.77h2.4v2.4h-2.4zM598.44 224.18h2.4v2.4h-2.4zM589.21 228.29h2.4v2.4h-2.4zM591.57 225.72h2.4v2.4h-2.4zM587.16 230.54h2.4v2.4h-2.4zM591.57 231.88h2.4v2.4h-2.4zM577.93 233.42h2.4v2.4h-2.4zM582.54 233.42h2.4v2.4h-2.4zM582.54 238.03h2.4v2.4h-2.4zM587.16 238.03h2.4v2.4h-2.4zM582.54 239.57h2.4v2.4h-2.4zM587.16 242.34h2.4v2.4h-2.4z" fill="#0c0c0c"/></g>
</g></svg>
</body></html>
